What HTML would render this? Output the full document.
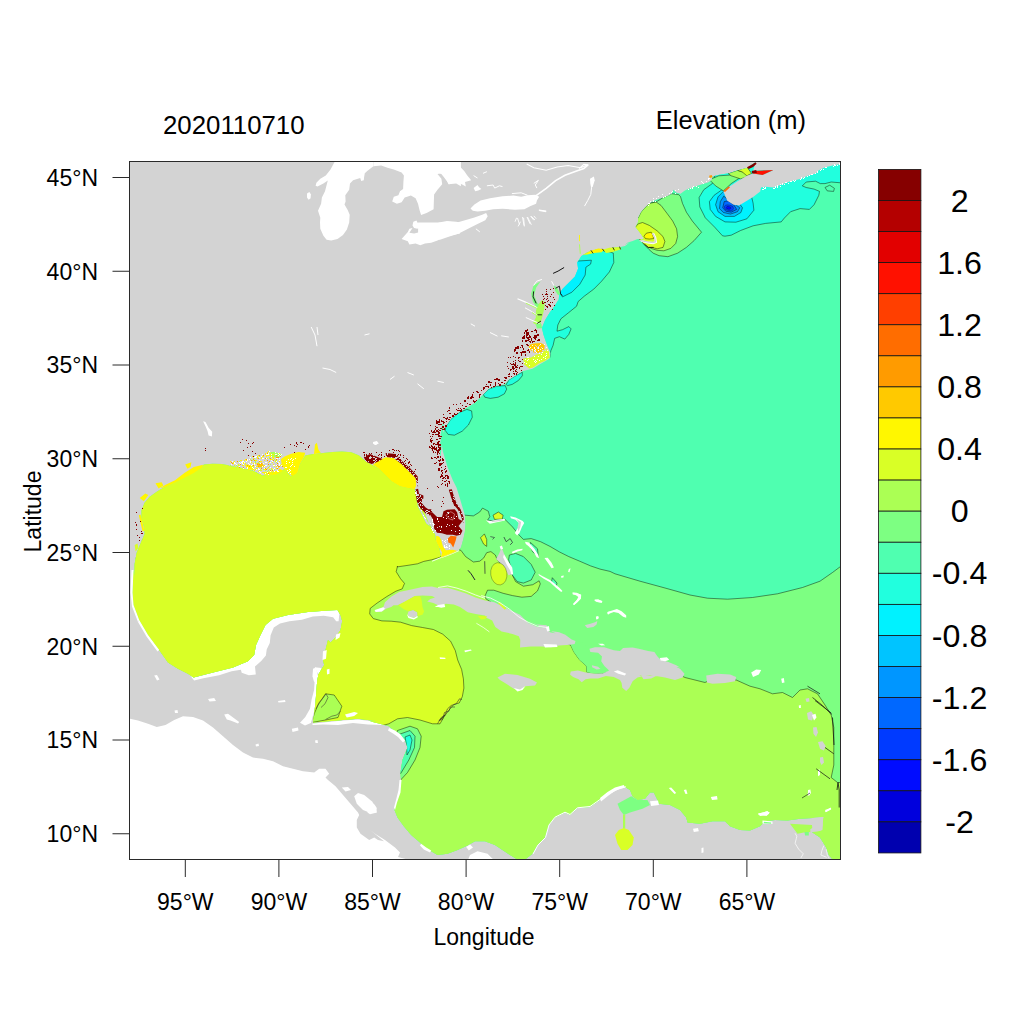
<!DOCTYPE html>
<html lang="en"><head><meta charset="utf-8"><title>Elevation (m) 2020110710</title>
<style>
html,body{margin:0;padding:0;background:#fff;}
body{width:1024px;height:1024px;overflow:hidden;position:relative;font-family:"Liberation Sans",Arial,Helvetica,sans-serif;color:#000;}
svg{position:absolute;left:0;top:0;display:block;}
text{font-family:"Liberation Sans",Arial,Helvetica,sans-serif;fill:#000;}
.ax{font-size:23px;}
.ti{font-size:25.8px;}
.cb{font-size:32.2px;}
</style></head><body>
<svg width="1024" height="1024" viewBox="0 0 1024 1024">
<rect x="0" y="0" width="1024" height="1024" fill="#ffffff"/>
<defs><clipPath id="fc"><rect x="129.5" y="161.5" width="711" height="698"/></clipPath></defs>
<g clip-path="url(#fc)">
<rect x="129.5" y="161.5" width="711" height="698" fill="#d3d3d3"/>
<polygon points="120,870 120,718 130.0,718.8 138.0,720.5 148.0,723.8 156.8,727.0 165.5,725.0 174.2,720.0 183.0,716.2 193.0,717.0 203.0,720.5 213.0,727.5 223.0,736.2 233.0,745.0 243.0,752.5 253.0,757.5 263.0,758.8 273.0,761.2 283.0,766.2 293.0,768.8 303.0,771.2 314.2,772.5 319.2,768.8 325.5,768.8 329.2,773.8 325.5,777.5 328.0,780.0 335.5,786.2 343.0,795.0 350.5,803.8 358.0,812.5 359.2,815.0 356.8,820.0 356.8,827.5 360.5,833.8 369.2,840.0 374.2,837.5 378.0,840.0 384.0,841.2 370.0,830.0 375.0,833.8 385.0,840.0 395.0,847.5 400.0,852.5 398.0,857.0 407.5,859.5 420.0,861.2 467.5,861.2 470.0,855.0 477.5,851.2 487.5,853.8 493.8,860.0 495.0,865.0 495,870" fill="#fff"/>
<polygon points="367.5,801.2 375.0,805.0 377.0,812.5 370.0,814.2 367.5,812.5" fill="#fff"/>
<polygon points="354.2,796.2 358.0,793.0 364.2,795.0 371.8,801.2 376.8,808.0 376.0,812.5 370.5,813.0 363.0,810.0 356.8,803.8" fill="#fff"/>
<polygon points="189.4,674.4 194.1,677.5 203.4,675.2 214.4,672.0 226.9,668.1 239.4,663.4 247.2,660.3 251.9,656.4 254.2,652.5 255.0,644.7 257.3,636.9 260.5,629.1 264.4,622.0 271.4,618.1 283.1,615.0 295.6,612.7 309.7,611.1 323.8,609.5 337.0,609.1 339.4,613.4 338.6,621.2 336.2,621.2 333.1,617.3 323.8,615.8 312.8,616.6 301.9,619.7 289.4,621.2 280.0,623.6 273.8,627.5 270.6,635.3 269.8,643.1 266.7,649.4 265.9,655.6 261.2,661.1 255.0,666.6 255.8,674.4 248.8,675.2 241.7,672.8 240.9,669.7 231.6,671.2 219.1,675.2 203.4,678.3 194.1,680.6" fill="#fff"/>
<polygon points="314.7,667.3 318.3,674.4 314.7,679.8 314.1,690.0 311.6,699.4 310.0,708.8 305.3,716.9 300.0,722.8 305.0,725.6 310.9,723.1 314.7,709.5 315.6,699.4 317.2,690.0 320.3,677.5 321.4,668.1" fill="#fff"/>
<polygon points="311.8,723.8 328.0,722.0 343.0,720.5 358.0,719.5 378.0,722.0 384.0,723.0 384.0,725.0 368.0,724.5 353.0,723.0 338.0,725.0 323.0,724.5 313.0,725.0" fill="#fff"/>
<polygon points="335.2,160.8 330.5,169.4 325.8,175.6 320.3,178.8 316.4,182.7 315.6,185.8 317.5,186.6 323.4,183.4 327.8,180.6 325.0,191.2 321.9,197.5 321.1,203.8 318.0,210.8 320.3,217.8 320.0,222.5 320.3,228.8 323.4,235.8 326.6,239.7 331.2,240.5 337.5,238.9 343.0,235.0 346.9,229.5 349.2,222.5 349.7,214.7 347.7,210.0 344.5,204.5 345.6,201.4 345.3,195.2 349.2,189.7 350.0,183.4 353.1,180.3 360.2,178.0 361.2,181.1 363.8,180.3 364.1,177.2 364.8,173.3 367.2,170.9 373.4,166.2 373.4,160.8" fill="#fff"/>
<polygon points="373.4,160.8 373.4,166.2 381.2,165.5 387.5,167.8 393.8,169.4 401.6,172.5 403.9,175.6 403.4,181.9 403.1,188.9 400.0,191.2 398.4,195.2 393.8,196.7 392.2,201.4 396.9,203.8 401.6,202.2 404.7,197.5 410.9,195.6 415.6,198.3 418.0,203.8 419.5,210.0 421.1,215.0 426.6,213.1 433.6,209.2 434.1,194.4 437.5,189.7 442.2,184.2 441.4,178.8 437.5,174.1 440.6,173.3 446.1,178.8 448.4,184.2 456.2,183.4 460.9,186.2 460.9,160.8" fill="#fff"/>
<polygon points="438.4,160.8 455.6,163.1 460.3,167.0 464.2,170.9 467.3,175.6 471.2,180.3 465.0,181.9 465.8,186.6 460.3,183.4 455.6,181.9 449.4,184.2 446.2,180.3 441.6,174.1 438.4,173.3" fill="#fff"/>
<polygon points="413.3,221.7 416.4,220.6 418.0,223.3 421.1,224.1 421.1,227.2 417.2,228.8 414.1,228.0 412.5,225.6" fill="#fff"/>
<polygon points="401.6,238.9 407.8,231.9 409.4,228.8 412.5,228.0 409.4,232.7 414.1,233.4 420.3,231.9 426.6,228.8 432.8,225.6 439.1,222.5 446.9,220.9 456.2,221.7 460.0,222.5 460.0,233.4 453.1,235.0 443.8,237.3 437.5,240.5 431.2,242.8 425.0,243.6 420.3,245.2 415.6,243.6 409.4,244.4 407.8,241.2" fill="#fff"/>
<polygon points="440.0,222.5 449.4,221.7 457.2,222.5 465.0,220.2 474.4,217.5 482.2,214.7 486.1,213.1 487.7,216.2 485.3,220.2 477.5,224.1 468.1,228.8 458.8,233.4 449.4,236.6 440.0,239.7 418.1,235.0 418.1,222.5" fill="#fff"/>
<polygon points="470.5,208.4 474.4,204.5 480.6,200.6 490.0,198.3 502.5,196.2 513.4,195.6 521.2,196.7 527.5,195.2 535.3,194.7 539.2,196.7 536.9,200.6 536.1,203.8 530.6,206.1 524.4,209.2 515.0,209.7 502.5,208.8 493.1,209.2 485.3,210.8 477.5,211.6 472.8,210.8" fill="#fff"/>
<polygon points="307.0,193.6 309.4,192.0 310.9,194.4 310.6,198.3 308.6,199.8 307.0,197.5" fill="#fff"/>
<polygon points="473.6,188.1 477.5,185.0 479.1,187.3 481.4,188.9 478.3,190.5 475.2,191.2" fill="#fff"/>
<polygon points="590.0,178.8 593.9,176.4 594.7,180.3 592.8,186.6 591.2,188.1 590.3,183.4" fill="#fff"/>
<polyline points="536.1,195.6 546.2,188.4 555.6,180.6 565.0,175.2 575.9,171.2 583.8,168.6 588.1,165.0" fill="none" stroke="#fff" stroke-width="1.6"/>
<polyline points="526.7,163.9 533.8,167.8 546.2,170.2 557.2,167.0 568.1,165.5 580.6,167.8 588.4,164.7 583.8,164.4 579.1,168.6" fill="none" stroke="#fff" stroke-width="1.1"/>
<polyline points="591.6,187.3 590.8,194.4 587.7,200.6 584.5,206.1" fill="none" stroke="#fff" stroke-width="1"/>
<polyline points="486.9,185.8 493.1,185.0 494.7,188.1 499.4,185.8 502.5,186.6" fill="none" stroke="#fff" stroke-width="1"/>
<polyline points="533.8,183.4 538.4,180.3 535.3,185.0 536.9,188.1" fill="none" stroke="#fff" stroke-width="1"/>
<polyline points="511.9,193.6 521.2,192.8 527.5,195.2" fill="none" stroke="#fff" stroke-width="1"/>
<polyline points="516.6,217.8 515.0,221.7" fill="none" stroke="#fff" stroke-width="0.9"/>
<polyline points="520.5,221.7 518.1,226.4" fill="none" stroke="#fff" stroke-width="0.9"/>
<polyline points="523.6,217.8 524.4,226.4" fill="none" stroke="#fff" stroke-width="0.9"/>
<polyline points="527.5,217.0 531.4,224.8" fill="none" stroke="#fff" stroke-width="0.9"/>
<polyline points="530.6,216.2 533.8,220.2" fill="none" stroke="#fff" stroke-width="0.9"/>
<polyline points="533.8,215.9 536.1,218.6" fill="none" stroke="#fff" stroke-width="0.9"/>
<polyline points="539.2,210.3 546.2,211.6" fill="none" stroke="#fff" stroke-width="1.3"/>
<polyline points="475.9,228.8 479.8,231.9" fill="none" stroke="#fff" stroke-width="1"/>
<polyline points="473.6,175.6 477.5,178.0" fill="none" stroke="#fff" stroke-width="1"/>
<polyline points="483.0,173.3 486.9,171.7" fill="none" stroke="#fff" stroke-width="1"/>
<polyline points="311.2,327.0 315.0,335.0 317.0,346.2" fill="none" stroke="#fff" stroke-width="1"/>
<polyline points="317.0,327.0 318.0,335.0" fill="none" stroke="#fff" stroke-width="1"/>
<polyline points="322.5,368.0 330.0,369.5 336.2,372.5" fill="none" stroke="#fff" stroke-width="1"/>
<polyline points="490.0,332.5 497.5,336.2" fill="none" stroke="#fff" stroke-width="1"/>
<polyline points="501.2,335.8 508.8,337.0" fill="none" stroke="#fff" stroke-width="1"/>
<polyline points="417.5,383.8 423.8,388.8" fill="none" stroke="#fff" stroke-width="1"/>
<polyline points="407.5,372.5 413.8,375.0" fill="none" stroke="#fff" stroke-width="1"/>
<polyline points="390.0,379.5 394.5,376.2" fill="none" stroke="#fff" stroke-width="1"/>
<polyline points="364.5,335.0 369.5,333.8" fill="none" stroke="#fff" stroke-width="1"/>
<polyline points="470.8,323.8 475.0,326.2" fill="none" stroke="#fff" stroke-width="1"/>
<polyline points="437.5,381.2 443.8,382.5" fill="none" stroke="#fff" stroke-width="1"/>
<polyline points="517.5,218.0 519.5,224.5" fill="none" stroke="#fff" stroke-width="0.9"/>
<polyline points="522.5,217.0 524.0,225.5" fill="none" stroke="#fff" stroke-width="0.9"/>
<polyline points="527.0,217.0 530.0,223.8" fill="none" stroke="#fff" stroke-width="0.9"/>
<polyline points="531.2,216.2 535.0,220.0" fill="none" stroke="#fff" stroke-width="0.9"/>
<polyline points="538.8,210.0 546.2,211.2" fill="none" stroke="#fff" stroke-width="1.2"/>
<clipPath id="sea"><polygon points="842,160 842,862 834,862 832.5,859.5 828.8,855.0 826.2,847.5 820.0,837.5 812.5,832.5 812.0,825.0 823.2,817.0 812.5,818.0 800.0,818.8 787.5,820.5 775.0,820.0 765.0,821.2 760.0,826.2 750.0,830.5 740.0,830.0 730.0,826.2 725.0,821.2 712.5,821.2 700.0,823.8 687.5,822.5 686.2,817.5 680.0,810.0 670.0,805.0 658.8,803.8 657.5,800.0 653.8,792.5 650.0,792.5 645.0,798.8 637.5,800.0 632.5,796.2 630.0,790.0 623.8,786.2 615.0,788.8 607.5,793.8 600.0,800.0 600.0,800.0 590.0,807.0 577.5,808.0 570.0,815.0 565.0,812.5 555.0,817.5 548.8,825.0 545.0,837.5 537.5,845.0 532.5,853.8 525.0,859.5 517.5,859.5 510.0,855.0 502.5,850.0 495.0,845.0 485.0,841.2 475.0,841.2 467.5,845.5 457.5,850.0 447.5,853.8 437.5,855.0 431.2,851.2 426.2,848.8 420.0,842.5 411.2,835.0 403.8,826.2 397.5,817.5 394.5,810.0 396.2,802.5 399.5,792.5 401.2,782.5 400.5,772.5 402.5,760.0 407.5,747.5 405.0,740.0 400.0,733.8 395.0,731.2 388.8,726.2 380.0,723.8 370.0,721.2 378.0,721.2 358.0,718.8 343.0,720.0 328.0,721.2 313.0,722.5 314.2,713.8 315.5,702.5 316.8,685.0 318.0,675.0 324.2,665.0 323.0,660.0 325.5,650.0 328.0,640.0 330.5,642.5 335.5,637.5 340.5,630.0 342.2,621.2 340.5,615.0 337.5,610.0 328.0,610.5 308.0,612.0 288.0,615.0 273.0,618.8 265.5,625.0 260.5,635.0 256.0,645.0 254.2,655.0 248.0,661.2 233.0,667.5 218.0,671.2 203.0,675.0 193.5,677.5 188.0,673.8 178.0,668.8 168.0,662.5 159.2,650.0 148.0,635.0 139.2,620.0 133.5,605.0 132.5,592.5 133.5,570.0 134.4,576.2 134.7,563.8 136.7,552.8 140.6,543.4 144.5,534.1 143.8,526.2 141.4,518.4 141.4,510.6 144.5,502.8 150.0,496.6 157.8,491.1 165.6,486.4 175.0,481.7 184.4,477.0 193.8,472.3 201.6,466.9 203.9,464.5 212.5,463.8 221.9,464.1 228.1,465.3 230.0,466.1 237.8,467.1 245.6,469.1 253.4,471.0 262.2,475.4 271.0,474.4 278.8,472.0 284.7,469.1 290.5,475.9 297.4,473.0 300.3,463.2 305.2,455.4 313.0,453.9 321.8,453.4 330.0,452.9 315.3,453.9 323.1,453.1 332.5,451.9 341.9,451.6 351.2,452.3 359.1,455.5 365.3,460.9 371.6,464.8 379.4,468.8 385.6,475.0 391.9,481.2 399.7,485.9 407.5,487.8 414.5,489.1 416.1,496.9 417.7,506.2 422.3,515.6 426.2,523.4 430.0,526.6 414.6,487.8 415.6,494.6 418.1,504.4 422.5,512.2 427.3,521.0 432.2,528.8 435.2,534.7 436.1,541.5 439.1,547.4 441.0,557.1 444.9,556.2 452.7,553.2 458.6,550.3 461.0,547.4 463.5,538.6 464.9,531.8 465.6,523.9 464.9,515.2 462.5,507.3 459.6,497.6 456.6,487.8 452.7,480.0 447.5,466.9 442.8,451.2 440.6,435.6 441.9,426.2 444.1,420.0 440.3,460.0 439.5,448.4 441.1,437.5 445.0,428.1 451.2,418.8 459.1,412.5 466.9,407.8 474.7,403.1 482.5,395.3 488.8,389.1 496.6,385.9 504.4,384.4 509.1,379.7 516.9,375.0 523.1,371.1 532.5,368.8 540.3,364.1 549.7,358.6 550.5,353.1 546.6,343.8 543.4,334.4 541.9,328.1 545.0,320.3 549.7,312.5 554.4,306.2 558.3,300.0 546.9,340.6 543.0,329.7 545.3,320.3 550.0,312.5 555.5,306.2 558.6,300.0 559.4,293.8 562.5,289.1 568.8,282.8 575.0,276.6 578.1,268.8 577.3,262.5 581.2,256.2 587.5,252.3 596.9,249.2 606.2,250.0 612.5,247.7 620.3,246.9 625.0,246.1 629.7,242.2 620.0,247.4 623.9,245.4 627.8,242.5 632.7,241.0 637.6,239.1 642.5,239.8 643.9,238.6 641.5,234.7 638.6,230.8 635.6,226.9 638.1,222.0 638.1,218.1 641.0,212.2 644.4,208.3 649.3,203.4 653.2,201.0 657.1,199.5 663.0,197.6 667.9,196.1 671.8,193.7 673.2,189.8 676.6,192.7 680.5,193.7 684.5,190.7 688.4,188.8 694.2,186.8 701.1,184.4 707.9,182.4 711.8,180.0 712.3,176.4 719.4,174.8 728.8,173.3 738.1,170.2 747.5,167.8 755.3,162.3 756.9,160.0 760,160"/></clipPath>
<g clip-path="url(#sea)">
<rect x="120" y="150" width="730" height="720" fill="#4FFFB0"/>
<g stroke="#0a1206" stroke-opacity="0.8" stroke-width="0.6" stroke-linejoin="round">
<polygon points="459.4,511.2 464.8,515.2 473.4,515.9 479.7,512.0 482.5,508.1 488.3,511.2 489.8,516.7 487.5,520.3 496.9,520.9 504.7,519.1 512.5,526.9 518.8,534.7 523.4,539.4 531.2,538.6 540.6,541.7 550.0,546.4 559.4,551.9 568.8,556.6 579.7,561.2 590.6,565.9 600.0,569.1 610.0,571.4 615.0,573.8 640.0,581.2 665.0,588.0 690.0,595.0 707.5,598.2 727.5,599.2 752.5,597.5 777.5,593.8 802.5,587.5 820.0,581.2 832.5,572.5 842.5,565.0 845,700 845,870 100,870 100,560 440,540" fill="#7DFF82"/>
<polygon points="453.1,548.8 460.9,550.3 465.6,556.6 473.4,562.0 479.7,561.2 483.6,558.1 486.7,552.7 490.9,551.6 495.3,555.0 496.9,558.9 503.1,567.5 512.5,575.3 515.6,581.6 523.4,586.2 532.8,584.7 539.1,580.8 540.3,583.9 537.5,590.9 531.2,596.4 521.9,597.2 512.5,595.6 503.1,593.3 493.8,590.2 487.5,590.2 485.2,595.6 485.9,598.8 535.6,631.6 559.1,639.4 570.8,645.3 573.9,651.9 579.4,659.7 586.4,665.9 586.9,672.2 601.2,673.8 629.4,667.5 660.6,669.1 680.0,673.8 670.0,670.0 685.0,677.5 695.0,680.0 705.0,682.5 710.0,680.0 735.0,680.0 736.2,680.0 750.0,686.2 760.0,688.8 772.5,693.8 782.5,692.5 792.5,697.5 800.0,690.0 807.5,688.8 817.5,693.8 825.0,705.0 831.2,715.0 833.8,727.5 833.8,747.5 833.8,765.0 831.2,777.5 837.5,782.5 843.8,782.5 845,790 845,870 100,870 100,540 330,540" fill="#ABFF54"/>
<polygon points="448.8,535.6 442.5,555.2 439.4,557.5 431.6,559.8 423.8,561.4 417.5,563.8 408.1,565.3 397.2,566.9 397.5,566.2 396.2,571.7 400.6,578.8 404.5,583.4 402.2,588.9 395.9,591.2 386.6,596.7 377.2,603.0 370.2,608.4 369.7,613.9 373.3,618.6 381.9,620.9 391.2,621.2 400.6,622.2 411.6,625.6 422.5,627.5 433.4,629.5 442.8,634.2 450.6,641.2 455.3,650.6 457.7,660.0 461.6,669.4 463.4,678.8 463.9,688.1 462.3,696.7 459.2,703.0 453.8,704.5 449.1,710.0 444.4,716.2 439.7,720.0 445.0,715.0 440.0,723.8 432.5,723.8 420.0,720.0 407.5,717.5 397.5,718.8 388.8,723.8 380.0,726.2 370.0,725.0 358.0,727.5 303.0,727.5 100,700 100,400 330,400 400,440 430,480 445,530" fill="#D9FF26"/>
<polygon points="397.5,730.5 410.0,726.2 417.5,728.8 421.2,736.2 420.0,747.5 415.0,760.0 407.5,772.5 399.5,781.2 395.0,765.0 395.0,740.0" fill="#7DFF82"/>
<polygon points="398.8,734.5 410.0,730.5 415.0,736.2 414.5,747.5 408.8,760.0 400.5,773.8 395.0,765.0 395.0,740.0" fill="#4FFFB0"/>
<polygon points="405.0,737.0 410.0,735.0 412.0,740.0 410.0,750.0 407.0,755.0 406.5,745.0" fill="#21FFDE"/>
<polygon points="325.5,693.8 334.2,695.0 341.8,706.2 338.0,717.5 325.5,720.0 311.8,722.5 314.2,713.8 318.0,705.0" fill="#ABFF54"/>
<polygon points="570.8,645.3 573.9,651.9 579.4,659.7 586.4,665.9 586.9,672.2 595.0,673.8 602.8,673.4 609.1,670.6 604.4,665.9 601.2,661.2 602.0,656.6 598.1,652.7 590.3,651.9 589.5,648.8 582.5,642.5 575.5,640.9" fill="#7DFF82" stroke="none"/>
<polygon points="509.4,555.0 515.6,553.4 523.4,556.6 531.2,564.4 535.2,572.2 531.2,580.0 523.4,583.1 517.2,581.6 512.5,575.3 510.9,567.5 508.6,559.7" fill="#4FFFB0"/>
<polygon points="530.5,542.5 537.5,548.8 538.3,556.6 532.8,551.9 529.7,545.6" fill="#4FFFB0"/>
<polygon points="552.3,577.7 557.0,583.1 556.2,586.2 551.6,581.6" fill="#4FFFB0"/>
<polygon points="493.0,515.2 498.4,512.0 503.1,515.2 502.3,519.1 494.5,519.4" fill="#D9FF26"/>
<polygon points="480.5,537.8 484.4,533.9 486.7,539.4 486.7,546.4 483.6,544.1" fill="#D9FF26"/>
<polygon points="445.8,426.6 451.2,418.8 459.1,412.5 466.9,409.4 471.6,410.9 472.3,417.2 468.4,425.0 462.2,431.2 454.4,435.2 448.1,434.4 445.3,430.5" fill="#21FFDE"/>
<polygon points="483.3,394.5 488.8,389.1 496.6,386.2 505.2,385.6 506.7,389.1 504.4,393.8 498.1,397.2 490.3,398.4 484.8,397.2" fill="#21FFDE"/>
<polygon points="506.2,384.4 509.1,379.7 516.9,375.0 522.3,372.2 522.3,375.8 518.4,380.5 512.2,384.4 507.5,385.6" fill="#21FFDE"/>
<polygon points="613.3,253.1 613.8,262.5 609.4,271.9 601.6,281.2 593.8,289.1 584.4,296.1 578.1,301.6 576.6,306.2 568.8,312.5 560.9,318.8 557.8,325.0 557.0,331.2 562.5,329.7 568.8,326.6 571.1,328.9 568.8,334.4 564.8,339.1 559.4,336.7 554.7,338.3 553.1,345.3 550.8,350.8 549.7,357.8 543.8,356.2 539.1,329.7 546.9,309.4 556.2,293.8 573.4,275.0 575.0,259.4 593.8,246.9" fill="#21FFDE"/>
<polygon points="575.0,261.2 591.4,260.2 590.6,264.1 585.9,267.2 585.2,275.0 579.7,284.4 571.9,292.2 562.5,296.9 560.2,293.8 557.8,290.6 568.8,278.1 575.0,270.3" fill="#00F2FF"/>
<polygon points="649.3,203.4 656.1,202.0 663.0,197.6 671.8,193.7 678.6,194.6 680.5,196.6 682.5,203.4 686.4,212.2 692.3,221.0 701.5,232.2 694.2,240.5 686.4,247.4 677.6,253.2 667.9,256.7 659.1,255.7 653.2,253.2 648.8,249.3 644.4,244.9 639.5,238.6 629.8,223.9 634.6,209.3" fill="#7DFF82"/>
<polygon points="638.1,218.1 641.0,212.2 644.4,208.3 649.3,203.4 656.1,202.0 661.0,205.4 666.9,213.2 672.7,221.0 676.6,228.8 677.6,236.6 675.7,243.5 670.8,248.4 663.9,250.8 657.1,250.3 651.2,248.4 646.4,245.4 639.5,238.6 629.8,223.9" fill="#ABFF54"/>
<polygon points="635.6,226.9 638.1,223.9 642.5,222.5 649.3,225.4 657.1,230.8 663.0,236.6 664.9,241.5 663.0,247.4 657.1,248.8 652.2,247.4 648.3,247.6 644.4,244.5 639.5,239.6 631.7,230.8" fill="#D9FF26"/>
<polygon points="643.9,236.2 646.4,233.2 651.2,232.2 652.7,234.7 653.7,238.6 649.3,239.1 645.4,238.6" fill="#FFF700"/>
<polygon points="715.6,173.4 712.3,183.6 703.8,189.7 699.1,197.5 699.8,206.9 705.3,217.8 714.7,227.2 722.5,235.8 725.0,236.2 731.2,235.2 740.6,230.5 753.1,225.8 765.6,223.4 781.2,221.9 784.4,218.0 790.6,211.7 800.0,208.6 809.4,209.4 814.1,204.7 818.8,195.3 819.5,191.4 814.1,189.1 806.2,187.5 802.3,185.9 806.2,182.0 815.6,181.2 820.3,183.6 825.0,183.6 831.2,182.0 840.6,182.8 840.6,159.4 746.9,159.4" fill="#21FFDE"/>
<polygon points="825.0,187.5 829.7,185.2 834.4,188.3 833.6,191.4 827.3,190.9" fill="#4FFFB0"/>
<polygon points="721.9,189.8 714.1,195.3 709.4,201.6 710.2,209.4 715.6,216.4 725.0,221.9 735.9,222.2 746.9,218.8 753.9,210.2 753.1,203.1 751.6,196.9 739.1,196.9" fill="#00F2FF"/>
<polygon points="723.4,191.4 718.0,196.9 715.6,204.7 718.0,211.7 725.0,216.4 734.4,216.4 740.9,212.5 742.5,207.8 739.1,203.1 731.2,196.9" fill="#00C4FF"/>
<polygon points="723.8,196.1 720.3,201.6 719.5,208.6 723.4,212.5 730.5,214.1 737.5,211.7 739.8,207.8 733.6,203.1 727.3,199.2" fill="#0096FF"/>
<polygon points="724.2,201.6 722.7,207.8 725.8,211.2 731.2,212.2 736.7,209.4 733.6,204.7 728.1,200.8" fill="#0068FF"/>
<polygon points="709.4,179.7 718.8,175.8 731.2,175.0 740.6,177.3 731.2,183.6 723.4,190.9 715.6,185.9" fill="#7DFF82"/>
<polygon points="728.1,173.4 737.5,170.3 746.9,173.4 750.0,175.8 740.6,178.9 731.2,175.8" fill="#ABFF54"/>
<polygon points="737.5,170.3 746.9,166.9 751.6,173.4 746.9,175.8 742.2,171.9" fill="#D9FF26"/>
</g></g>
<polygon points="374.1,610.8 383.4,606.9 385.0,602.2 391.2,596.7 399.1,592.0 410.0,589.7 422.5,586.9 431.9,586.6 438.1,588.1 447.5,587.8 456.9,590.5 466.2,593.6 475.6,597.5 485.0,600.6 494.4,602.2 503.8,606.9 513.1,611.6 520.0,614.7 528.1,623.0 537.5,626.9 546.9,627.7 550.0,632.3 559.4,633.9 565.6,636.2 570.3,640.0 527.8,620.6 537.2,624.5 546.6,625.3 548.9,630.8 559.1,632.3 565.3,634.7 571.6,639.4 575.5,640.9 574.7,644.1 570.0,644.8 559.1,645.6 551.2,647.2 541.9,646.4 530.9,646.4 520.0,647.5 520.3,640.0 518.8,636.2 512.5,633.9 501.6,631.6 495.3,626.9 492.2,620.6 485.9,617.5 485.0,615.5 475.6,613.9 467.8,612.3 460.0,606.9 453.8,604.5 445.9,603.8 439.7,606.1 433.4,603.0 427.2,601.4 430.3,599.1 435.0,597.5 431.9,595.9 422.5,595.6 414.7,595.9 405.3,601.4 397.5,605.3 393.6,605.3 391.2,606.9 386.6,608.4 381.9,611.6 375.6,611.6" fill="#d3d3d3"/>
<polygon points="408.4,611.6 413.1,610.0 417.0,612.3 417.5,615.5 413.9,617.8 409.2,616.6 407.7,613.9" fill="#d3d3d3"/>
<polygon points="589.5,648.8 595.0,647.2 604.4,647.2 613.8,650.3 620.0,651.1 623.1,648.0 632.5,647.5 638.8,648.8 648.1,651.1 654.4,651.9 657.5,656.6 660.6,659.7 668.4,662.0 676.2,665.2 680.0,667.5 660.0,663.8 672.5,665.0 680.0,668.8 684.5,673.8 682.5,677.5 675.0,680.0 665.0,677.5 657.5,676.2 650.0,675.0 642.5,676.2 637.5,677.5 632.5,681.2 630.0,686.2 626.2,690.0 623.8,686.2 622.5,680.0 620.0,677.5 615.0,677.0 657.5,675.3 651.2,678.4 643.4,679.2 641.1,675.3 635.6,677.7 632.5,681.6 629.4,687.8 626.2,690.9 622.3,687.8 621.6,683.1 620.0,680.0 613.8,676.9 605.9,676.1 598.1,678.4 590.3,678.4 585.6,679.2 581.7,682.3 578.6,679.2 573.1,676.9 570.0,674.5 570.8,671.4 577.8,670.6 585.6,672.5 595.0,673.8 602.8,673.4 609.1,670.6 604.4,665.9 601.2,661.2 602.0,656.6 598.1,652.7 590.3,651.9" fill="#d3d3d3"/>
<polygon points="591.9,665.2 598.1,666.7 600.5,669.1 596.6,669.4 592.2,667.2" fill="#d3d3d3"/>
<polygon points="497.5,677.5 505.0,673.8 517.5,675.0 530.0,678.8 537.0,682.5 535.0,685.5 525.0,686.2 520.0,690.0 513.8,688.8 506.2,683.8 500.0,680.0" fill="#d3d3d3"/>
<polygon points="706.2,675.5 717.5,673.8 730.0,674.5 736.2,677.0 735.0,681.2 725.0,683.0 712.5,683.8 707.0,682.5" fill="#d3d3d3"/>
<polygon points="584.8,625.3 590.3,623.8 595.0,622.2 597.3,620.9 596.6,624.5 593.4,626.9 587.2,628.1" fill="#d3d3d3"/>
<polygon points="501.6,547.2 503.9,553.4 507.8,561.2 511.7,567.5 512.5,573.8 508.6,575.3 504.7,569.1 500.0,562.8 496.1,558.9 499.2,553.4" fill="#d3d3d3"/>
<polygon points="812.5,818.0 823.2,817.0 822.5,830.0 812.5,831.2 812.0,825.0" fill="#d3d3d3"/>
<polygon points="723.4,191.4 728.1,187.5 737.5,181.2 746.9,175.8 753.1,173.4 762.5,175.0 773.4,170.3 762.5,170.0 753.1,171.1 754.7,165.6 756.2,159.4 843.8,159.4 843.8,163.3 832.8,165.6 825.0,167.2 818.8,170.3 815.6,173.4 807.8,175.8 800.0,178.9 790.6,181.2 784.4,183.6 773.4,187.5 765.6,186.7 760.9,187.5 760.2,191.4 753.1,196.9 746.9,200.8 739.1,205.5 733.6,204.7 727.3,200.8 725.0,195.3" fill="#d3d3d3"/>
<polygon points="617.5,803.8 631.2,796.2 637.5,800.0 647.5,800.0 650.0,805.0 642.5,808.8 630.0,812.5 623.8,815.0 620.0,810.0" fill="#7DFF82"/>
<polygon points="623.0,814.5 625.2,814.5 625.2,828.8 623.0,828.8" fill="#ABFF54"/>
<polygon points="615.0,835.0 618.8,830.0 623.8,828.0 628.8,830.0 633.8,837.5 632.5,845.0 627.5,850.0 621.2,850.0 617.5,843.8" fill="#D9FF26"/>
<polygon points="790.0,823.8 812.0,825.0 812.0,832.0 803.8,832.5 797.5,833.8" fill="#ABFF54"/>
<polygon points="398.3,605.3 406.9,600.6 414.7,596.2 420.2,596.2 421.7,600.6 422.5,606.9 424.1,611.6 422.5,614.7 417.8,615.9 417.5,612.3 413.1,609.7 408.4,611.2 403.8,609.2" fill="#D9FF26"/>
<ellipse cx="498.8" cy="573.8" rx="8.1" ry="11.2" transform="rotate(-8 498.8 573.8)" fill="#D9FF26" stroke="#0c1a08" stroke-opacity="0.7" stroke-width="0.4"/>
<polygon points="523.2,358.6 531.0,357.6 535.9,354.7 541.8,353.2 546.2,348.8 548.6,350.8 549.8,357.6 544.7,361.0 538.8,363.5 533.0,367.4 529.1,368.4 524.2,364.5" fill="#D9FF26"/>
<polygon points="528.6,344.9 533.9,343.5 540.8,343.0 544.7,344.9 544.2,350.8 538.8,353.2 533.0,352.2 529.1,348.8" fill="#FFC900"/>
<polygon points="533.6,285.2 540.6,281.2 536.2,287.5 534.1,295.3 537.2,303.1 542.5,306.2 541.9,314.1 539.8,323.4 542.5,325.3 535.6,325.3 537.5,315.6 536.7,307.8 532.8,301.6 531.2,293.8" fill="#7DFF82"/>
<polygon points="535.9,310.7 538.8,303.9 541.8,300.0 544.7,302.0 544.2,308.8 542.7,315.6 540.8,322.5 535.9,324.4 533.0,322.9 535.9,317.6" fill="#ABFF54"/>
<polygon points="535.9,324.4 540.8,322.7 542.2,328.3 536.9,328.5" fill="#7DFF82"/>
<polygon points="553.9,285.2 557.0,287.5 560.2,293.8 558.1,295.3 555.0,290.6" fill="#7DFF82"/>
<polygon points="582.8,254.7 590.6,250.8 598.4,248.4 604.7,249.2 601.6,252.3 593.8,253.1 587.5,254.4" fill="#FFF700"/>
<polygon points="602.3,249.7 609.4,247.7 620.3,246.9 621.1,249.2 612.5,251.9 606.2,253.1" fill="#D9FF26"/>
<polygon points="373.1,464.8 379.4,460.2 385.6,457.5 393.4,458.1 401.2,464.1 409.1,471.9 415.3,478.1 416.1,485.2 414.5,489.1 407.5,487.8 399.7,485.9 391.9,481.2 385.6,475.0 379.4,468.8" fill="#FFF700"/>
<polygon points="436.1,535.7 439.1,536.6 441.0,539.6 443.0,546.4 445.9,550.3 452.7,549.8 456.6,550.8 448.8,554.2 441.0,557.1 442.0,552.3 439.1,547.4 436.1,541.5" fill="#FFF700"/>
<polygon points="447.9,538.6 450.8,535.7 456.6,536.6 455.7,540.5 453.2,547.4 450.8,543.5 448.3,542.5" fill="#FF6D00"/>
<ellipse cx="728.9" cy="207.8" rx="4.7" ry="2.8" transform="rotate(10 728.9 207.8)" fill="#003AFF" stroke="#0c1a08" stroke-opacity="0.7" stroke-width="0.4"/>
<ellipse cx="728.6" cy="207.8" rx="2.3" ry="1.4" transform="rotate(10 728.6 207.8)" fill="#000CFF" stroke="#0c1a08" stroke-opacity="0.7" stroke-width="0.4"/>
<polygon points="746.9,167.2 751.6,164.8 755.5,162.2 756.6,163.8 753.1,166.9 748.8,169.1" fill="#860000"/>
<polygon points="753.1,171.1 773.4,170.0 762.5,175.0 753.1,173.4" fill="#FF1100"/>
<polygon points="751.6,171.1 756.2,170.0 757.0,172.7 752.3,173.4" fill="#860000"/>
<polygon points="723.4,190.9 728.9,186.2 730.0,187.2 725.0,191.9" fill="#FF6D00"/>
<polygon points="709.1,175.8 711.7,175.0 712.5,177.3 709.7,178.1" fill="#FF9B00"/>
<polygon points="203.1,464.7 193.8,466.9 184.4,473.1 175.0,480.2 165.6,484.8 160.2,488.0 164.1,487.5 175.0,482.5 184.4,477.7 193.8,473.0 201.9,467.5" fill="#FFF700"/>
<polygon points="185.2,464.5 191.4,462.2 190.6,466.9 187.5,468.8" fill="#FFF700"/>
<polygon points="155.5,483.3 161.7,482.2 163.3,485.6 158.6,488.4" fill="#FFF700"/>
<polygon points="139.8,498.1 145.3,493.4 148.4,495.0 143.8,501.2" fill="#FFF700"/>
<polygon points="138.8,515.3 140.6,514.5 144.5,530.9 142.5,531.2" fill="#FFF700"/>
<polygon points="134.7,545.0 137.5,543.4 138.3,548.1 135.6,551.6" fill="#D9FF26"/>
<polygon points="280.8,459.3 284.7,456.4 290.5,453.9 298.4,452.0 305.2,452.7 304.2,456.4 300.3,463.2 297.4,473.0 292.5,475.9 288.6,473.0 284.7,469.1 281.8,464.2" fill="#FFF700"/>
<polygon points="269.1,452.7 273.9,451.7 282.7,454.6 278.8,457.8 273.0,457.3 270.0,455.6" fill="#ABFF54"/>
<polygon points="315.0,444.6 316.9,442.7 318.4,449.5 320.8,452.9 314.0,453.9" fill="#FFF700"/>
<polygon points="244.6,464.2 253.4,465.2 254.4,470.0 247.6,469.6" fill="#FFF700"/>
<polygon points="256.4,463.2 262.2,462.7 264.2,467.1 258.3,467.6" fill="#FFC900"/>
<polygon points="263.2,472.0 276.9,471.0 280.8,469.1 282.7,471.0 275.9,474.4 269.1,475.1 264.2,474.4" fill="#FFF700"/>
<polygon points="373.1,464.8 379.4,460.2 385.6,457.5 393.4,458.1 401.2,464.1 409.1,471.9 415.3,478.1 416.1,485.2 414.5,489.1 407.5,487.8 399.7,485.9 391.9,481.2 385.6,475.0 379.4,468.8" fill="#FFF700"/>
<polygon points="432.7,519.1 429.3,513.2 432.2,512.2 437.1,517.1 442.0,517.1 443.5,511.2 446.9,509.8 454.7,509.3 457.1,512.2 458.6,519.1 462.5,521.0 458.6,525.9 462.5,530.8 460.5,534.7 456.6,535.7 452.7,534.7 446.9,534.7 442.0,533.2 437.1,532.7 434.2,528.8 433.7,523.9" fill="#860000"/>
<polygon points="416.1,489.3 418.1,488.8 419.0,493.7 423.4,495.6 423.4,498.6 421.0,499.5 422.0,503.4 425.4,507.3 428.3,509.3 431.2,509.3 432.2,512.2 429.3,513.2 426.4,511.2 421.5,508.3 419.0,504.4 417.6,499.5 415.6,494.6" fill="#860000"/>
<polygon points="448.8,489.8 451.8,489.3 453.7,495.6 456.6,503.4 460.5,509.3 463.5,517.1 464.0,523.0 462.5,521.0 460.5,514.2 457.6,509.3 453.7,504.4 450.8,496.6" fill="#860000"/>
<polygon points="363.8,457.0 370.0,453.9 379.4,457.8 382.5,459.1 377.8,461.7 371.6,464.1 366.1,461.7" fill="#860000"/>
<polygon points="385.6,453.1 395.0,453.9 402.8,461.7 410.6,468.8 417.7,476.6 418.1,487.5 415.6,478.1 409.1,471.6 401.2,463.8 393.4,457.8 386.4,456.9" fill="#860000"/>
<polygon points="415.3,489.1 418.4,493.8 422.3,496.9 421.6,503.1 426.2,509.4 430.0,511.7 430.0,515.6 426.2,514.1 420.0,507.8 416.9,501.6" fill="#860000"/>
<polygon points="807.0,713.0 811.2,711.2 813.8,715.0 812.0,720.5 808.0,719.5" fill="#d3d3d3"/>
<polygon points="813.0,727.5 816.5,727.0 818.0,732.5 816.0,737.0 813.5,733.8" fill="#d3d3d3"/>
<polygon points="818.0,742.0 822.5,741.2 825.8,746.2 823.8,750.5 820.0,748.8" fill="#d3d3d3"/>
<polygon points="820.0,757.5 823.0,757.0 824.0,762.5 821.5,765.0 820.0,762.0" fill="#d3d3d3"/>
<polygon points="805.5,698.8 809.0,698.0 809.5,701.5 806.5,702.0" fill="#d3d3d3"/>
<polygon points="798.8,705.5 800.8,705.0 800.8,708.0 799.0,708.0" fill="#fff"/>
<polygon points="812.0,715.0 815.5,713.8 816.5,717.5 814.0,720.5" fill="#fff"/>
<polygon points="818.0,770.0 820.0,769.5 820.0,775.0 818.0,776.2" fill="#fff"/>
<polygon points="808.0,790.0 810.5,789.5 810.5,793.8 808.0,794.5" fill="#fff"/>
<polygon points="751.2,672.5 756.2,669.5 761.2,670.0 758.8,674.5 753.0,677.0" fill="#fff"/>
<polygon points="781.2,678.8 783.8,678.0 784.5,682.5 782.0,683.0" fill="#fff"/>
<polygon points="710.8,797.0 717.0,796.0 717.5,799.5 712.0,800.0" fill="#fff"/>
<polygon points="668.8,788.0 671.2,787.5 676.2,793.0 674.5,794.0" fill="#fff"/>
<polygon points="683.8,790.0 686.2,789.5 687.5,793.8 685.5,794.0" fill="#fff"/>
<polygon points="758.0,813.8 767.0,811.2 770.0,812.5 765.0,815.5 760.0,816.0" fill="#fff"/>
<polygon points="825.0,810.0 830.5,808.0 831.2,809.5 826.2,812.0" fill="#fff"/>
<polygon points="693.0,828.8 698.0,828.0 698.8,831.2 693.8,832.0" fill="#fff"/>
<polygon points="701.5,848.0 703.5,847.5 703.5,852.5 701.5,853.0" fill="#fff"/>
<polygon points="762.5,820.5 772.5,821.5 772.5,824.0 762.5,823.5" fill="#fff"/>
<polygon points="763.8,821.8 771.2,822.5 771.2,823.8 763.8,823.2" fill="#7DFF82"/>
<polygon points="804.5,832.0 808.8,832.0 808.8,835.5 805.0,835.5" fill="#7DFF82"/>
<polygon points="810.3,819.8 813.2,818.1 823.8,817.3 822.0,820.4 822.6,825.1 821.4,830.4 817.3,831.6 810.3,832.2 810.3,829.2 813.2,827.5 813.8,821.6" fill="#d3d3d3"/>
<polygon points="825.0,811.1 830.8,807.5 831.2,808.7 825.6,812.2" fill="#fff"/>
<polygon points="807.4,794.1 809.1,791.1 810.9,791.7 809.7,795.2 808.0,795.8" fill="#fff"/>
<polygon points="758.2,813.4 762.3,812.8 767.5,811.1 769.3,813.4 766.4,816.1 763.4,815.2 758.8,814.9" fill="#fff"/>
<polygon points="600.0,798.0 607.5,792.0 615.0,787.5 623.8,785.0 625.0,787.5 615.5,790.5 608.5,795.5 601.0,801.5" fill="#fff"/>
<polygon points="650.0,801.2 658.0,800.5 659.0,805.0 651.2,806.0" fill="#fff"/>
<polygon points="421.2,843.8 426.2,847.5 431.2,850.5 430.0,852.5 423.8,849.5 420.0,845.5" fill="#fff"/>
<polygon points="466.2,847.0 470.0,844.5 473.0,847.5 468.8,850.5" fill="#fff"/>
<polygon points="389.0,728.0 395.0,730.5 400.5,734.5 405.0,740.5 403.0,742.5 398.0,737.0 393.0,733.5 388.0,730.5" fill="#fff"/>
<polygon points="399.5,780.0 401.5,780.0 400.5,792.5 397.0,802.5 395.0,810.0 394.0,807.5 396.0,800.0 398.5,790.0" fill="#fff"/>
<polygon points="341.8,787.5 348.0,787.0 351.0,790.0 345.5,791.5" fill="#fff"/>
<polygon points="291.8,728.8 298.0,727.5 298.5,730.5 292.5,732.0" fill="#fff"/>
<polygon points="224.2,714.5 228.0,713.8 239.2,722.0 238.0,723.5 230.5,720.5 226.8,719.5" fill="#fff"/>
<polygon points="208.0,699.0 214.2,698.0 216.0,701.0 209.5,701.5" fill="#fff"/>
<polygon points="154.2,675.5 157.0,675.0 159.5,679.5 157.0,680.5" fill="#fff"/>
<polygon points="278.0,701.0 285.0,700.0 285.5,702.0 278.5,702.5" fill="#fff"/>
<polygon points="255.5,744.5 258.5,743.5 259.0,746.0 256.0,746.5" fill="#fff"/>
<polygon points="315.0,740.5 317.5,740.0 318.0,743.0 315.5,743.0" fill="#fff"/>
<polygon points="174.5,710.5 177.5,710.0 178.0,713.0 175.0,713.0" fill="#fff"/>
<polygon points="345.0,714.5 354.2,712.0 358.0,713.0 354.2,716.0 346.8,717.5" fill="#fff"/>
<polygon points="131.5,570.0 133.5,570.0 132.5,592.5 133.5,605.0 139.2,620.0 138.0,622.0 132.0,606.5 130.5,592.5" fill="#fff"/>
<polygon points="139.2,620.0 148.0,635.0 159.2,650.0 157.5,651.5 146.5,636.5 138.0,622.0" fill="#fff"/>
<polygon points="336.0,634.5 340.5,633.0 339.5,637.5 335.5,640.0" fill="#fff"/>
<polygon points="323.0,651.2 326.8,650.0 326.0,658.8 322.5,660.0" fill="#fff"/>
<polygon points="313.0,668.8 316.0,667.5 318.0,676.2 314.2,682.5 312.5,676.2" fill="#fff"/>
<polygon points="326.8,669.5 329.5,668.8 329.5,673.8 327.0,674.5" fill="#fff"/>
<polygon points="203.1,421.2 205.5,421.9 208.6,427.8 212.2,431.7 211.9,436.4 208.6,435.6 207.5,430.9 205.5,426.2" fill="#fff"/>
<polygon points="373.0,441.9 376.9,441.1 378.8,443.4 375.3,445.0 373.4,443.8" fill="#fff"/>
<polygon points="373.1,441.9 377.8,442.5 376.2,445.0 373.4,444.1" fill="#fff"/>
<polygon points="485.9,520.3 490.6,520.9 496.9,519.8 504.7,518.8 505.0,520.6 496.9,522.2 489.8,523.8" fill="#fff"/>
<polygon points="491.4,520.9 496.9,520.2 503.1,519.4 503.4,520.3 496.9,521.4 492.2,521.9" fill="#d3d3d3"/>
<polygon points="510.2,516.2 515.6,517.5 522.7,520.9 524.2,523.0 521.9,526.9 519.5,533.1 517.2,535.5 514.8,533.1 518.4,526.9 518.8,523.0 515.6,519.8 510.9,518.3" fill="#fff"/>
<polygon points="516.4,519.1 521.1,521.9 520.3,526.9 518.4,531.6 517.5,526.9 518.8,523.0" fill="#d3d3d3"/>
<polygon points="525.0,541.7 528.9,542.5 534.4,548.8 538.3,555.0 539.1,558.1 536.7,557.3 533.6,551.9 528.9,546.4 525.8,544.1" fill="#fff"/>
<polygon points="544.5,558.1 547.7,557.8 551.6,562.8 553.9,567.5 551.6,568.3 548.4,563.6" fill="#fff"/>
<polygon points="538.3,573.8 542.2,576.1 550.0,580.0 553.9,583.1 559.4,587.8 562.5,590.9 561.2,591.9 556.2,588.1 550.0,582.3 543.8,578.8 539.1,575.6" fill="#fff"/>
<polygon points="572.7,592.5 576.6,592.8 580.9,594.8 580.5,598.8 577.3,601.9 574.2,605.0 573.1,604.4 576.6,600.3 578.4,596.9 575.8,594.8" fill="#fff"/>
<polygon points="594.5,600.0 598.4,599.5 602.3,601.1 601.6,602.7 596.9,601.9" fill="#fff"/>
<polygon points="568.8,569.1 570.6,568.3 569.5,572.2 568.1,571.9" fill="#fff"/>
<polygon points="561.2,576.1 563.8,575.6 563.4,577.5 561.2,577.8" fill="#fff"/>
<polygon points="511.7,551.9 517.2,549.5 522.7,548.8 522.2,550.3 517.5,551.6 512.8,553.4" fill="#fff"/>
<polygon points="596.1,616.7 598.4,616.2 598.1,619.1 596.2,619.4" fill="#fff"/>
<polygon points="607.0,612.8 609.4,611.2 610.0,612.8 608.1,614.7" fill="#fff"/>
<polygon points="503.9,554.2 508.1,561.2 512.2,567.5 513.1,573.8 511.7,575.6 510.2,570.6 506.6,564.4 503.1,557.3" fill="#fff"/>
<polygon points="499.7,546.4 501.9,545.6 503.1,548.8 500.8,549.5" fill="#fff"/>
<polygon points="572.3,592.5 577.0,593.3 581.2,594.8 580.9,598.8 577.0,602.7 573.9,605.0 573.1,603.8 576.6,600.3 579.1,597.2 576.2,595.3 572.8,594.4" fill="#fff"/>
<polygon points="594.7,599.5 598.1,599.5 602.3,601.6 601.9,602.8 597.8,601.9 594.7,600.9" fill="#fff"/>
<polygon points="607.5,612.0 612.2,610.5 616.9,608.9 621.6,611.2 626.2,615.2 626.2,617.8 623.1,616.7 618.4,613.1 613.8,612.0 608.3,614.1" fill="#fff"/>
<polygon points="595.8,616.7 598.1,616.2 598.9,618.3 596.6,619.1" fill="#fff"/>
<polygon points="598.1,643.8 602.8,643.8 605.2,645.3 601.2,645.6" fill="#fff"/>
<polygon points="659.8,658.1 666.9,657.3 669.2,659.7 665.3,661.2 660.6,660.5" fill="#fff"/>
<polygon points="613.8,671.4 617.7,670.3 626.2,673.8 624.7,675.6 618.4,673.8" fill="#fff"/>
<polygon points="543.4,644.1 556.7,644.4 557.5,646.9 545.0,647.5" fill="#fff"/>
<polygon points="545.8,626.9 548.9,626.1 549.7,630.8 547.3,631.6" fill="#fff"/>
<polygon points="513.8,688.0 520.0,689.5 525.5,686.0 522.5,690.0 517.5,691.5" fill="#fff"/>
<polygon points="497.7,602.7 500.0,602.2 506.2,608.4 504.7,609.7" fill="#D9FF26"/>
<polygon points="477.8,615.9 487.2,616.2 485.2,619.1 481.2,619.4" fill="#D9FF26"/>
<polygon points="464.4,650.6 470.9,649.4 471.7,650.6 465.0,652.2" fill="#fff"/>
<polygon points="439.7,657.2 445.2,657.7 445.6,659.1 440.0,659.1" fill="#fff"/>
<polygon points="434.7,606.9 438.1,605.0 444.4,604.1 445.2,606.9 441.2,607.7 438.1,606.9" fill="#fff"/>
<polygon points="374.8,610.0 383.4,607.2 385.0,608.8 381.9,611.6 375.6,611.9" fill="#fff"/>
<polygon points="406.9,613.9 409.2,616.6 413.9,618.1 417.0,615.9 418.1,617.0 413.9,619.4 408.4,618.1" fill="#fff"/>
<polyline points="795.1,833.3 796.8,836.3 796.3,838.6 795.1,843.3 798.6,849.1 803.3,853.8 800.9,857.9" fill="none" stroke="#fff" stroke-width="0.7"/>
<polyline points="823.8,845.6 822.0,850.3 820.9,855.0 826.7,857.3" fill="none" stroke="#fff" stroke-width="0.7"/>
<polyline points="826.1,849.1 827.3,855.0 829.1,858.5" fill="none" stroke="#fff" stroke-width="0.6"/>
<polyline points="533.0,854.0 538.0,845.0 545.5,837.5 549.0,825.0 555.0,817.2 565.0,812.2 570.0,814.5 577.5,807.8 590.0,806.5 600.0,799.5 610.0,793.2 620.0,788.2 626.0,786.8" fill="none" stroke="#fff" stroke-width="1"/>
<polyline points="438.1,587.5 447.5,585.9 456.9,588.1 466.2,591.2 475.6,595.0 485.0,598.4" fill="none" stroke="#fff" stroke-width="0.8"/>
<polyline points="481.2,595.6 490.6,598.1 500.0,602.8 509.4,609.1 518.8,616.9 528.1,622.2 537.5,626.2 547.2,627.5" fill="none" stroke="#fff" stroke-width="0.8"/>
<polyline points="476.4,623.3 483.4,627.5 489.4,631.9" fill="none" stroke="#fff" stroke-width="0.7"/>
<polyline points="432.2,561.2 439.1,558.3 444.9,556.4 452.7,553.4 459.1,550.5" fill="none" stroke="#fff" stroke-width="0.9"/>
<polyline points="441.0,557.3 448.8,554.4 456.6,551.1" fill="none" stroke="#FFF700" stroke-width="0.7"/>
<polyline points="537.2,307.8 531.2,304.7 525.0,301.9 517.5,298.8" fill="none" stroke="#fff" stroke-width="1.2"/>
<polyline points="537.5,315.6 531.2,311.2 525.0,307.8" fill="none" stroke="#fff" stroke-width="1"/>
<polyline points="539.4,323.4 532.0,320.3 525.8,317.5" fill="none" stroke="#fff" stroke-width="1"/>
<polyline points="537.2,308.4 531.2,305.6 525.8,303.1" fill="none" stroke="#ABFF54" stroke-width="0.9"/>
<polyline points="537.8,316.2 532.0,312.5" fill="none" stroke="#ABFF54" stroke-width="0.9"/>
<polyline points="533.6,285.6 536.7,281.2 541.9,279.4" fill="none" stroke="#fff" stroke-width="1"/>
<polyline points="551.6,281.2 553.9,285.6" fill="none" stroke="#fff" stroke-width="1"/>
<polyline points="533.6,291.4 533.1,296.9 536.2,303.4" fill="none" stroke="#111" stroke-width="0.9"/>
<polyline points="537.5,314.8 541.9,314.8" fill="none" stroke="#111" stroke-width="0.9"/>
<polyline points="537.2,323.4 540.9,321.1" fill="none" stroke="#111" stroke-width="0.9"/>
<polyline points="553.1,273.4 558.1,271.1 564.1,267.5" fill="none" stroke="#111" stroke-width="1"/>
<polyline points="555.5,288.3 559.4,286.2 560.6,293.8 562.5,295.6" fill="none" stroke="#111" stroke-width="0.9"/>
<polyline points="579.5,235.0 579.5,241.2" fill="none" stroke="#FFF700" stroke-width="0.9"/>
<polyline points="579.5,244.4 580.3,253.8" fill="none" stroke="#ABFF54" stroke-width="0.9"/>
<polyline points="590.9,250.3 593.1,253.4" fill="none" stroke="#111" stroke-width="0.8"/>
<polyline points="602.3,248.8 604.4,251.6" fill="none" stroke="#111" stroke-width="0.8"/>
<polyline points="612.8,247.2 614.4,250.3" fill="none" stroke="#111" stroke-width="0.8"/>
<polyline points="619.5,246.6 620.6,249.4" fill="none" stroke="#111" stroke-width="0.8"/>
<polyline points="807.5,686.2 820.0,693.8" fill="none" stroke="#111" stroke-width="0.7"/>
<polyline points="812.5,697.5 822.5,705.5 832.0,714.5" fill="none" stroke="#111" stroke-width="0.7"/>
<polyline points="815.0,700.5 831.2,713.0" fill="none" stroke="#111" stroke-width="0.7"/>
<polyline points="832.5,717.5 834.0,745.0" fill="none" stroke="#111" stroke-width="0.8"/>
<polyline points="825.0,747.5 833.8,753.8" fill="none" stroke="#111" stroke-width="0.7"/>
<polyline points="816.2,768.8 830.0,778.8" fill="none" stroke="#111" stroke-width="0.7"/>
<polyline points="837.0,790.0 838.0,782.5 839.2,790.0 839.2,807.5" fill="none" stroke="#111" stroke-width="0.8"/>
<polyline points="802.0,798.0 810.0,793.0" fill="none" stroke="#111" stroke-width="0.6"/>
<polyline points="468.0,570.3 471.1,573.8 475.0,580.0" fill="none" stroke="#223" stroke-width="1"/>
<polyline points="484.7,561.2 485.0,573.8" fill="none" stroke="#223" stroke-width="0.7"/>
<polyline points="503.9,537.0 506.2,541.7 510.2,538.6 512.5,542.5 510.2,544.8" fill="none" stroke="#223" stroke-width="0.7"/>
<polyline points="490.3,536.6 494.5,537.5 492.5,539.4" fill="none" stroke="#223" stroke-width="0.6"/>
<polyline points="445.9,515.2 450.8,511.7 454.7,514.2 452.7,520.0 448.8,518.6 445.9,515.2" fill="none" stroke="#e9b0b0" stroke-width="0.6"/>
<polyline points="437.5,723.8 441.2,717.5 445.0,715.0 447.5,708.8 451.2,705.5 456.2,703.8 459.5,698.8 462.0,699.5" fill="none" stroke="#333" stroke-width="0.6"/>
<polyline points="438.8,720.5 442.5,719.5 444.5,712.5 448.8,711.2 450.5,707.0 455.0,707.0" fill="none" stroke="#333" stroke-width="0.6"/>
<polyline points="316.0,708.8 319.2,702.5 323.0,698.0 326.0,693.8 328.0,697.5 325.0,703.8 321.0,707.5" fill="none" stroke="#443" stroke-width="0.6"/>
<polyline points="325.5,719.5 331.8,716.2 336.8,715.0 340.5,711.2" fill="none" stroke="#443" stroke-width="0.6"/>
<polyline points="641.0,240.7 647.3,242.5 653.2,243.1 655.9,242.1 655.2,237.6 653.0,233.2" fill="none" stroke="#fff" stroke-width="2.2"/>
<polyline points="639.5,240.4 647.3,241.9 653.2,242.5 655.4,241.7 654.7,237.6 652.7,233.2" fill="none" stroke="#d3d3d3" stroke-width="1.3"/>
<polyline points="644.4,244.0 648.3,247.4 653.7,247.4" fill="none" stroke="#111" stroke-width="0.8"/>
<g shape-rendering="crispEdges">
<path d="M436 420h1v1h-1zM439 420h1v1h-1zM436 421h2v2h-2zM437 421h2v2h-2zM439 421h1v2h-1zM436 422h2v2h-2zM437 422h1v2h-1zM438 424h2v1h-2zM439 424h2v1h-2zM440 424h1v1h-1zM441 424h1v1h-1zM430 425h1v1h-1zM435 426h1v1h-1zM436 427h2v1h-2zM435 428h1v1h-1zM438 429h1v1h-1zM431 430h1v2h-1zM434 430h1v2h-1zM439 430h2v1h-2zM438 431h1v1h-1zM432 432h1v1h-1zM433 432h2v1h-2zM435 432h1v1h-1zM429 433h1v1h-1zM435 434h2v1h-2zM438 434h1v1h-1zM430 436h1v1h-1zM431 438h1v1h-1zM430 439h1v2h-1zM436 439h2v1h-2zM430 441h1v1h-1zM437 442h2v2h-2zM433 443h2v1h-2zM433 444h1v1h-1zM435 444h1v1h-1zM436 444h2v1h-2zM439 444h2v2h-2zM438 445h1v1h-1zM429 446h1v2h-1zM432 446h1v2h-1zM434 446h1v1h-1zM438 446h1v2h-1zM436 447h1v2h-1zM439 447h1v1h-1zM440 447h1v1h-1zM431 448h2v1h-2zM432 448h1v1h-1zM435 448h1v1h-1zM439 448h2v1h-2zM440 448h1v2h-1zM434 449h1v1h-1zM436 449h1v1h-1zM438 449h2v2h-2zM436 450h2v1h-2zM433 451h1v2h-1zM437 451h2v2h-2zM435 452h1v1h-1zM437 456h2v2h-2zM440 456h1v2h-1zM431 457h1v2h-1zM436 458h1v1h-1zM442 458h1v1h-1zM440 459h1v2h-1zM442 459h2v2h-2zM438 460h1v1h-1zM439 460h1v2h-1zM442 460h1v1h-1zM436 462h1v1h-1zM443 462h1v1h-1zM434 463h2v1h-2zM439 463h1v2h-1zM440 463h2v2h-2zM442 463h1v1h-1zM439 465h2v1h-2zM445 466h1v1h-1zM441 467h1v1h-1zM438 468h2v1h-2zM445 468h1v1h-1zM438 469h2v1h-2zM444 469h1v1h-1zM438 470h2v1h-2zM439 470h1v1h-1zM441 470h2v1h-2zM446 470h1v2h-1zM441 471h1v1h-1zM445 471h1v2h-1zM442 472h1v2h-1zM441 474h1v2h-1zM441 475h2v2h-2zM442 475h1v1h-1zM445 475h1v2h-1zM446 475h2v1h-2zM440 476h1v2h-1zM447 476h2v1h-2zM443 477h1v2h-1zM444 477h1v1h-1zM447 477h2v2h-2zM442 478h1v1h-1zM445 478h1v1h-1zM446 480h1v1h-1zM444 481h2v1h-2zM448 481h2v1h-2zM449 482h1v2h-1zM447 483h1v2h-1zM445 484h1v2h-1zM447 485h1v2h-1z" fill="#860000"/>
<path d="M515 362h1v1h-1zM510 363h1v1h-1zM513 363h1v2h-1zM515 363h1v1h-1zM511 364h2v1h-2zM514 364h1v2h-1zM515 364h1v2h-1zM507 366h1v1h-1zM512 366h2v1h-2zM513 366h1v2h-1zM515 366h2v2h-2zM520 366h2v1h-2zM521 366h2v1h-2zM512 367h2v1h-2zM516 367h1v1h-1zM517 367h1v1h-1zM519 367h1v1h-1zM512 368h1v1h-1zM513 368h1v2h-1zM510 369h1v2h-1zM511 369h1v1h-1zM510 370h1v1h-1zM515 370h1v1h-1zM515 371h1v1h-1zM516 371h1v1h-1zM517 372h1v1h-1zM509 373h1v2h-1zM513 373h2v1h-2zM516 373h1v2h-1zM508 374h2v1h-2zM514 374h1v1h-1zM508 376h2v1h-2zM509 376h1v1h-1zM511 376h1v1h-1zM504 377h1v1h-1zM505 377h2v2h-2zM496 378h2v2h-2zM505 378h2v1h-2zM494 379h2v1h-2zM498 379h2v2h-2zM504 380h1v1h-1zM505 380h1v1h-1zM488 381h2v2h-2zM490 382h1v1h-1zM491 382h1v1h-1zM495 382h1v2h-1zM501 382h2v1h-2zM498 383h1v1h-1zM504 383h1v1h-1zM486 384h1v1h-1zM490 384h1v2h-1zM495 384h1v2h-1zM499 384h2v2h-2zM500 384h1v1h-1zM485 386h1v1h-1zM486 386h2v1h-2zM488 386h1v2h-1zM493 386h1v1h-1zM494 386h1v1h-1zM483 387h2v2h-2zM491 387h1v1h-1zM483 389h1v1h-1zM481 390h1v1h-1zM476 391h1v1h-1zM477 391h1v1h-1zM473 392h1v1h-1zM477 392h2v1h-2zM478 392h1v1h-1zM472 394h1v2h-1zM479 394h2v1h-2zM479 395h1v2h-1zM468 396h1v2h-1zM471 396h2v2h-2zM479 396h1v2h-1zM467 397h2v2h-2zM470 397h2v2h-2zM473 397h1v1h-1zM470 398h1v1h-1zM464 400h2v2h-2zM473 400h1v2h-1zM476 400h1v1h-1zM464 401h1v1h-1zM473 401h1v1h-1zM474 401h2v1h-2zM474 402h1v1h-1zM460 403h1v1h-1zM467 403h1v1h-1zM453 404h1v1h-1zM456 404h1v1h-1zM469 404h2v1h-2zM462 405h1v1h-1zM465 406h2v1h-2zM449 407h1v2h-1zM458 408h1v1h-1zM460 408h1v1h-1zM463 408h2v1h-2zM456 409h1v1h-1zM461 409h1v1h-1zM448 410h1v1h-1zM449 410h1v1h-1zM457 410h2v1h-2zM458 410h2v1h-2zM460 410h2v2h-2zM447 411h1v1h-1zM449 413h2v1h-2zM454 413h1v1h-1zM457 413h1v1h-1zM443 414h1v1h-1zM454 414h2v1h-2zM456 414h1v1h-1zM452 415h2v2h-2zM443 417h2v1h-2zM447 417h1v2h-1zM449 417h2v1h-2zM445 418h1v1h-1zM446 418h1v1h-1zM439 419h1v1h-1zM446 419h1v1h-1zM448 419h2v1h-2zM441 420h1v1h-1zM441 421h1v1h-1zM442 421h2v1h-2zM446 421h1v1h-1zM443 422h1v2h-1zM444 422h1v1h-1zM445 425h2v2h-2zM442 426h2v2h-2zM443 426h1v1h-1zM435 428h1v2h-1zM440 428h2v1h-2zM444 428h1v1h-1zM442 429h2v1h-2zM443 429h2v1h-2zM436 430h2v2h-2zM433 431h2v1h-2zM432 432h1v1h-1zM438 432h2v2h-2zM432 434h1v1h-1zM433 434h1v1h-1zM437 434h1v1h-1zM438 435h2v2h-2zM432 436h1v1h-1zM440 436h2v1h-2zM441 436h1v1h-1zM439 438h2v1h-2zM437 439h1v1h-1zM431 440h2v1h-2zM431 441h1v2h-1zM438 441h2v1h-2zM433 443h2v1h-2zM438 443h1v2h-1zM431 445h1v1h-1zM438 445h2v1h-2zM439 445h1v1h-1zM431 446h2v1h-2zM430 447h1v1h-1zM432 447h1v2h-1zM433 447h2v2h-2zM435 448h1v2h-1zM439 448h1v1h-1zM432 449h1v2h-1zM435 449h1v1h-1zM432 450h1v1h-1zM437 451h2v2h-2zM437 453h1v2h-1zM439 453h1v1h-1zM431 457h1v1h-1zM434 457h2v1h-2zM431 458h2v1h-2zM436 458h1v1h-1z" fill="#860000"/>
<path d="M527 329h1v2h-1zM535 329h1v2h-1zM525 330h2v2h-2zM534 330h2v1h-2zM535 330h2v1h-2zM531 331h2v1h-2zM536 331h1v2h-1zM524 332h1v2h-1zM526 332h2v2h-2zM528 332h1v2h-1zM536 332h1v1h-1zM527 333h2v2h-2zM526 334h2v2h-2zM527 334h1v1h-1zM537 334h2v2h-2zM524 335h1v2h-1zM529 335h1v1h-1zM534 335h2v1h-2zM535 335h2v2h-2zM523 336h1v2h-1zM526 336h1v2h-1zM529 336h2v2h-2zM534 336h2v2h-2zM522 337h2v1h-2zM523 337h2v2h-2zM527 337h2v2h-2zM533 337h1v1h-1zM534 337h1v2h-1zM536 337h1v1h-1zM522 338h2v1h-2zM531 338h1v1h-1zM535 338h1v2h-1zM528 339h1v1h-1zM529 339h1v1h-1zM531 339h1v2h-1zM538 339h2v2h-2zM522 340h1v2h-1zM525 340h2v2h-2zM527 340h2v1h-2zM537 340h2v1h-2zM529 341h2v1h-2zM532 341h1v2h-1zM533 341h2v1h-2zM530 342h1v1h-1z" fill="#860000"/>
<path d="M526 344h2v1h-2zM521 345h2v1h-2zM527 345h2v1h-2zM517 346h1v2h-1zM518 346h1v1h-1zM522 346h1v2h-1zM515 347h2v2h-2zM517 347h2v2h-2zM520 347h1v1h-1zM523 348h1v2h-1zM514 349h2v2h-2zM528 349h1v2h-1zM514 350h1v2h-1zM527 350h2v1h-2zM522 351h1v1h-1zM523 351h2v2h-2zM525 351h1v2h-1zM529 351h1v2h-1zM516 352h2v2h-2zM520 352h2v1h-2zM522 352h2v1h-2zM529 352h2v1h-2zM521 353h1v1h-1zM521 354h1v2h-1zM525 354h1v2h-1z" fill="#860000"/>
<path d="M513 356h1v1h-1zM508 357h1v1h-1zM510 357h1v1h-1zM515 357h1v1h-1zM518 357h1v1h-1zM519 357h1v1h-1zM518 358h1v1h-1zM522 359h1v1h-1zM515 360h1v1h-1zM518 360h1v1h-1zM513 361h1v1h-1zM519 361h1v1h-1zM520 361h1v1h-1zM507 362h1v1h-1zM513 363h1v1h-1zM522 363h1v1h-1zM514 365h1v1h-1zM517 365h1v1h-1zM508 368h1v1h-1zM514 368h1v1h-1zM519 368h1v1h-1zM516 369h1v1h-1zM510 370h1v1h-1zM521 370h1v1h-1zM513 371h1v1h-1z" fill="#860000"/>
<path d="M540 344h1v1h-1zM544 344h1v1h-1zM532 345h1v1h-1zM535 345h1v1h-1zM530 347h1v1h-1zM534 347h1v1h-1zM537 347h1v1h-1zM538 347h1v1h-1zM546 347h1v1h-1zM529 348h1v1h-1zM534 348h1v1h-1zM538 348h1v1h-1zM542 348h1v1h-1zM532 349h1v1h-1zM535 349h1v1h-1zM540 349h1v1h-1zM534 350h1v1h-1zM538 350h1v1h-1zM547 350h1v1h-1zM535 351h1v1h-1zM536 352h1v1h-1zM542 352h1v1h-1zM539 353h1v1h-1zM546 353h1v1h-1zM541 354h1v1h-1zM546 355h1v1h-1zM534 356h1v1h-1zM538 356h1v1h-1zM545 356h1v1h-1zM527 357h1v1h-1zM528 357h1v1h-1zM543 357h1v1h-1zM545 358h1v1h-1zM525 359h1v1h-1zM528 359h1v1h-1zM533 359h1v1h-1zM537 359h1v1h-1zM541 359h1v1h-1zM527 360h1v1h-1zM535 360h1v1h-1zM539 360h1v1h-1zM534 361h1v1h-1zM536 361h1v1h-1zM524 362h1v1h-1zM535 362h1v1h-1zM526 363h1v1h-1zM529 365h1v1h-1z" fill="#ffffff"/>
<path d="M529 345h1v1h-1zM535 345h1v1h-1zM539 345h1v1h-1zM536 346h1v1h-1zM538 346h1v1h-1zM537 347h1v1h-1zM541 347h1v1h-1zM537 348h1v1h-1zM531 349h1v1h-1zM532 350h1v1h-1zM535 350h1v1h-1zM542 350h1v1h-1zM543 350h1v1h-1zM545 350h1v1h-1zM531 351h1v1h-1zM532 351h1v1h-1zM534 351h1v1h-1zM530 352h1v1h-1zM539 352h1v1h-1zM531 353h1v1h-1zM535 353h1v1h-1zM538 353h1v1h-1z" fill="#d3d3d3"/>
<path d="M267 453h1v1h-1zM281 454h1v1h-1zM259 455h1v1h-1zM263 455h1v1h-1zM266 455h1v1h-1zM276 455h1v1h-1zM257 456h1v1h-1zM266 456h1v1h-1zM280 456h1v1h-1zM273 457h1v1h-1zM276 457h1v1h-1zM277 457h1v1h-1zM278 457h1v1h-1zM258 458h1v1h-1zM265 458h1v1h-1zM269 458h1v1h-1zM270 458h1v1h-1zM273 458h1v1h-1zM246 459h1v1h-1zM253 459h1v1h-1zM276 459h1v1h-1zM240 460h1v1h-1zM244 460h1v1h-1zM251 460h1v1h-1zM254 460h1v1h-1zM267 460h1v1h-1zM273 460h1v1h-1zM237 461h1v1h-1zM259 461h1v1h-1zM269 461h1v1h-1zM275 461h1v1h-1zM231 462h1v1h-1zM244 462h1v1h-1zM266 462h1v1h-1zM232 463h1v1h-1zM261 463h1v1h-1zM277 463h1v1h-1zM240 464h1v1h-1zM257 464h1v1h-1zM259 464h1v1h-1zM268 464h1v1h-1zM281 464h1v1h-1zM243 465h1v1h-1zM247 465h1v1h-1zM253 465h1v1h-1zM273 465h1v1h-1zM277 465h1v1h-1zM249 466h1v1h-1zM256 466h1v1h-1zM258 466h1v1h-1zM278 466h1v1h-1zM279 466h1v1h-1zM282 466h1v1h-1zM239 467h1v1h-1zM243 467h1v1h-1zM270 467h1v1h-1zM256 468h1v1h-1zM257 468h1v1h-1zM261 468h1v1h-1zM265 468h1v1h-1zM277 468h1v1h-1zM266 469h1v1h-1zM271 469h1v1h-1zM279 469h1v1h-1zM259 470h1v1h-1zM270 470h1v1h-1zM272 470h1v1h-1zM259 471h1v1h-1zM263 472h1v1h-1zM272 472h1v1h-1zM268 473h1v1h-1z" fill="#FF9B00"/>
<path d="M268 451h1v1h-1zM267 452h1v1h-1zM271 452h1v1h-1zM265 453h1v1h-1zM268 453h1v1h-1zM270 453h1v1h-1zM279 453h1v1h-1zM265 454h1v1h-1zM268 454h1v1h-1zM272 454h1v1h-1zM273 454h1v1h-1zM276 454h1v1h-1zM279 454h1v1h-1zM258 455h1v1h-1zM266 455h1v1h-1zM267 455h1v1h-1zM268 455h1v1h-1zM269 455h1v1h-1zM270 455h1v1h-1zM278 455h1v1h-1zM252 456h1v1h-1zM257 456h1v1h-1zM262 456h1v1h-1zM263 456h1v1h-1zM266 456h1v1h-1zM270 456h1v1h-1zM273 456h1v1h-1zM254 457h1v1h-1zM255 457h1v1h-1zM257 457h1v1h-1zM261 457h1v1h-1zM269 457h1v1h-1zM272 457h1v1h-1zM273 457h1v1h-1zM253 458h1v1h-1zM257 458h1v1h-1zM261 458h1v1h-1zM263 458h1v1h-1zM267 458h1v1h-1zM273 458h1v1h-1zM245 459h1v1h-1zM270 459h1v1h-1zM271 459h1v1h-1zM272 459h1v1h-1zM274 459h1v1h-1zM240 460h1v1h-1zM241 460h1v1h-1zM244 460h1v1h-1zM246 460h1v1h-1zM255 460h1v1h-1zM256 460h1v1h-1zM264 460h1v1h-1zM276 460h1v1h-1zM230 461h1v1h-1zM234 461h1v1h-1zM260 461h1v1h-1zM261 461h1v1h-1zM275 461h1v1h-1zM276 461h1v1h-1zM279 461h1v1h-1zM233 462h1v1h-1zM243 462h1v1h-1zM250 462h1v1h-1zM251 462h1v1h-1zM255 462h1v1h-1zM266 462h1v1h-1zM268 462h1v1h-1zM272 462h1v1h-1zM233 463h1v1h-1zM242 463h1v1h-1zM243 463h1v1h-1zM245 463h1v1h-1zM253 463h1v1h-1zM255 463h1v1h-1zM231 464h1v1h-1zM238 464h1v1h-1zM273 464h1v1h-1zM281 464h1v1h-1zM234 465h1v1h-1zM239 465h1v1h-1zM242 465h1v1h-1zM243 465h1v1h-1zM248 465h1v1h-1zM264 465h1v1h-1zM265 465h1v1h-1zM266 465h1v1h-1zM274 465h1v1h-1zM280 465h1v1h-1zM237 466h1v1h-1zM256 466h1v1h-1zM257 466h1v1h-1zM274 466h1v1h-1zM276 466h1v1h-1zM246 467h1v1h-1zM268 467h1v1h-1zM270 467h1v1h-1zM278 467h1v1h-1zM243 468h1v1h-1zM250 468h1v1h-1zM253 468h1v1h-1zM256 468h1v1h-1zM257 468h1v1h-1zM267 468h1v1h-1zM271 468h1v1h-1zM274 468h1v1h-1zM276 468h1v1h-1zM248 469h1v1h-1zM253 469h1v1h-1zM255 469h1v1h-1zM260 469h1v1h-1zM263 469h1v1h-1zM264 469h1v1h-1zM265 469h1v1h-1zM269 469h1v1h-1zM272 469h1v1h-1zM279 469h1v1h-1zM254 470h1v1h-1zM259 470h1v1h-1zM261 470h1v1h-1zM277 470h1v1h-1zM278 470h1v1h-1zM258 471h1v1h-1zM267 471h1v1h-1zM262 472h1v1h-1zM263 472h1v1h-1zM267 472h1v1h-1zM268 472h1v1h-1zM266 473h1v1h-1zM270 473h1v1h-1zM260 474h1v1h-1zM266 474h1v1h-1z" fill="#FFF700"/>
<path d="M269 451h1v1h-1zM271 452h1v1h-1zM275 452h1v1h-1zM268 453h1v1h-1zM278 453h1v1h-1zM262 454h1v1h-1zM266 454h1v1h-1zM267 454h1v1h-1zM268 454h1v1h-1zM271 454h1v1h-1zM275 454h1v1h-1zM276 454h1v1h-1zM279 454h1v1h-1zM281 454h1v1h-1zM278 455h1v1h-1zM280 455h1v1h-1zM255 456h1v1h-1zM256 456h1v1h-1zM261 456h1v1h-1zM271 456h1v1h-1zM250 457h1v1h-1zM254 457h1v1h-1zM255 457h1v1h-1zM259 457h1v1h-1zM262 458h1v1h-1zM263 458h1v1h-1zM266 458h1v1h-1zM276 458h1v1h-1zM277 458h1v1h-1zM279 458h1v1h-1zM247 459h1v1h-1zM249 459h1v1h-1zM247 460h1v1h-1zM252 460h1v1h-1zM259 460h1v1h-1zM271 460h1v1h-1zM275 460h1v1h-1zM279 460h1v1h-1zM232 461h1v1h-1zM242 461h1v1h-1zM243 461h1v1h-1zM246 461h1v1h-1zM250 461h1v1h-1zM272 461h1v1h-1zM276 461h1v1h-1zM234 462h1v1h-1zM239 462h1v1h-1zM241 462h1v1h-1zM242 462h1v1h-1zM244 462h1v1h-1zM250 462h1v1h-1zM255 462h1v1h-1zM265 462h1v1h-1zM266 462h1v1h-1zM270 462h1v1h-1zM278 462h1v1h-1zM234 463h1v1h-1zM235 463h1v1h-1zM240 463h1v1h-1zM242 463h1v1h-1zM248 463h1v1h-1zM254 463h1v1h-1zM260 463h1v1h-1zM263 463h1v1h-1zM279 463h1v1h-1zM231 464h1v1h-1zM236 464h1v1h-1zM243 464h1v1h-1zM249 464h1v1h-1zM252 464h1v1h-1zM254 464h1v1h-1zM279 464h1v1h-1zM251 465h1v1h-1zM265 465h1v1h-1zM266 465h1v1h-1zM273 465h1v1h-1zM274 465h1v1h-1zM276 465h1v1h-1zM279 465h1v1h-1zM281 465h1v1h-1zM239 466h1v1h-1zM255 466h1v1h-1zM262 466h1v1h-1zM264 466h1v1h-1zM269 466h1v1h-1zM247 467h1v1h-1zM252 467h1v1h-1zM270 467h1v1h-1zM277 467h1v1h-1zM243 468h1v1h-1zM247 468h1v1h-1zM253 468h1v1h-1zM258 468h1v1h-1zM264 468h1v1h-1zM274 468h1v1h-1zM256 469h1v1h-1zM258 469h1v1h-1zM259 469h1v1h-1zM271 469h1v1h-1zM273 469h1v1h-1zM277 470h1v1h-1zM259 471h1v1h-1zM267 471h1v1h-1zM270 471h1v1h-1zM274 471h1v1h-1zM277 471h1v1h-1zM278 471h1v1h-1zM260 472h1v1h-1zM267 472h1v1h-1zM265 473h1v1h-1zM268 474h1v1h-1z" fill="#ffffff"/>
<path d="M271 452h1v1h-1zM259 456h1v1h-1zM254 458h1v1h-1zM269 458h1v1h-1zM250 459h1v1h-1zM252 460h1v1h-1zM275 460h1v1h-1zM239 461h1v1h-1zM255 461h1v1h-1zM255 462h1v1h-1zM258 462h1v1h-1zM276 462h1v1h-1zM259 463h1v1h-1zM270 464h1v1h-1zM230 465h1v1h-1zM236 465h1v1h-1zM238 465h1v1h-1zM252 466h1v1h-1zM269 466h1v1h-1zM261 467h1v1h-1zM263 469h1v1h-1zM271 469h1v1h-1zM274 469h1v1h-1zM252 470h1v1h-1zM260 470h1v1h-1zM265 470h1v1h-1zM268 470h1v1h-1zM267 471h1v1h-1zM256 472h1v1h-1zM272 472h1v1h-1zM266 473h1v1h-1z" fill="#ABFF54"/>
<path d="M291 458h1v1h-1zM295 458h1v1h-1zM288 459h1v1h-1zM290 459h1v1h-1zM293 459h1v1h-1zM292 460h1v1h-1zM286 461h1v1h-1zM289 462h1v1h-1zM292 462h1v1h-1zM286 463h1v1h-1zM292 464h1v1h-1zM291 465h1v1h-1zM290 466h1v1h-1zM294 466h1v1h-1zM285 467h1v1h-1zM286 467h1v1h-1zM289 469h1v1h-1zM287 470h1v1h-1zM290 470h1v1h-1zM289 471h1v1h-1zM288 472h1v1h-1zM290 473h1v1h-1z" fill="#ffffff"/>
<path d="M242 439h1v1h-1zM246 440h1v1h-1zM240 442h1v1h-1zM253 442h1v1h-1zM248 443h1v1h-1zM252 443h1v1h-1zM250 446h1v1h-1zM247 447h1v1h-1zM243 450h1v1h-1zM252 451h1v1h-1zM255 453h1v1h-1zM248 455h1v1h-1zM253 456h1v1h-1z" fill="#860000"/>
<path d="M296 442h1v1h-1zM300 442h1v1h-1zM301 442h1v1h-1zM296 443h1v1h-1zM303 443h1v1h-1zM290 444h1v1h-1zM297 444h1v1h-1zM294 445h1v1h-1zM309 445h1v1h-1zM296 446h1v1h-1zM308 446h1v1h-1zM284 447h1v1h-1zM308 447h1v1h-1zM305 449h1v1h-1zM294 452h1v1h-1z" fill="#860000"/>
<path d="M142 508h1v1h-1zM136 512h1v1h-1zM140 521h1v1h-1zM135 522h1v1h-1zM136 524h1v1h-1zM136 525h1v1h-1zM136 529h1v1h-1zM141 531h1v1h-1zM141 533h1v1h-1zM142 533h1v1h-1zM137 535h1v1h-1zM139 537h1v1h-1zM139 540h1v1h-1z" fill="#860000"/>
<path d="M205 448h1v1h-1zM205 450h1v1h-1z" fill="#860000"/>
<path d="M553 292h1v1h-1zM546 293h1v1h-1zM542 294h1v1h-1zM547 294h1v1h-1zM551 294h1v1h-1zM543 296h1v1h-1zM550 296h1v1h-1zM553 297h1v1h-1zM544 298h1v1h-1zM543 299h1v1h-1zM554 299h1v1h-1zM542 301h1v1h-1zM547 301h1v1h-1zM542 302h1v1h-1zM552 302h1v1h-1zM542 303h1v1h-1zM543 303h1v1h-1zM549 304h1v1h-1zM549 305h1v1h-1zM550 305h1v1h-1zM554 305h1v1h-1zM545 309h1v1h-1zM552 309h1v1h-1z" fill="#860000"/>
<path d="M553 288h1v1h-1zM546 289h1v1h-1zM550 289h1v1h-1zM546 291h1v1h-1zM545 294h1v1h-1zM546 294h1v1h-1zM551 294h1v1h-1zM543 296h1v1h-1zM547 296h1v1h-1zM547 298h1v1h-1zM546 299h1v1h-1zM554 299h1v1h-1zM548 300h1v1h-1zM544 302h1v1h-1zM545 302h1v1h-1zM550 302h1v1h-1zM548 304h1v1h-1zM545 305h1v1h-1zM550 305h1v1h-1zM546 306h1v1h-1zM547 306h1v1h-1zM550 306h1v1h-1zM547 307h1v1h-1z" fill="#860000"/>
<path d="M392 449h1v1h-1zM393 449h1v1h-1zM389 450h1v1h-1zM394 450h1v1h-1zM396 450h1v1h-1zM398 450h1v1h-1zM399 451h1v1h-1zM393 452h1v1h-1zM395 454h1v1h-1zM398 454h1v1h-1zM400 454h1v1h-1zM397 455h1v1h-1zM400 455h1v1h-1zM403 455h1v1h-1zM399 457h1v1h-1zM403 457h1v1h-1zM406 458h1v1h-1zM400 459h1v1h-1zM407 459h1v1h-1zM405 460h1v1h-1zM404 461h1v1h-1zM409 461h1v1h-1zM408 462h1v1h-1zM409 462h1v1h-1zM405 463h1v1h-1zM408 463h1v1h-1zM410 464h1v1h-1zM411 465h1v1h-1zM409 466h1v1h-1zM415 469h1v1h-1zM414 471h1v1h-1z" fill="#860000"/>
<path d="M442 480h1v1h-1zM442 483h1v1h-1zM441 484h1v1h-1zM437 486h1v1h-1zM438 487h1v1h-1zM427 488h1v1h-1zM451 496h1v1h-1zM452 496h1v1h-1zM443 497h1v1h-1zM432 500h1v1h-1zM442 501h1v1h-1zM452 501h1v1h-1zM443 503h1v1h-1zM454 505h1v1h-1zM441 506h1v1h-1z" fill="#860000"/>
<path d="M448 513h1v1h-1zM456 516h1v1h-1zM443 517h1v1h-1zM437 518h1v1h-1zM446 518h1v1h-1zM454 518h1v1h-1zM437 519h1v1h-1zM438 521h1v1h-1zM447 524h1v1h-1zM441 526h1v1h-1zM446 526h1v1h-1zM455 526h1v1h-1zM435 530h1v1h-1zM440 530h1v1h-1zM451 530h1v1h-1zM459 530h1v1h-1zM459 533h1v1h-1z" fill="#ffffff"/>
<path d="M447 512h1v1h-1zM448 512h1v1h-1zM448 516h1v1h-1zM451 517h1v1h-1zM434 524h1v1h-1zM452 524h1v1h-1zM449 525h1v1h-1zM439 526h1v1h-1zM437 527h1v1h-1zM441 527h1v1h-1zM455 531h1v1h-1z" fill="#d3d3d3"/>
<path d="M416 492h1v1h-1zM420 496h1v1h-1zM417 497h1v1h-1zM418 498h1v1h-1zM421 502h1v1h-1zM420 504h1v1h-1zM420 505h1v1h-1zM422 508h1v1h-1zM431 510h1v1h-1z" fill="#d3d3d3"/>
<path d="M450 491h1v1h-1zM451 491h1v1h-1zM453 496h1v1h-1zM453 498h1v1h-1zM454 499h1v1h-1zM456 503h1v1h-1zM458 506h1v1h-1zM459 511h1v1h-1zM461 513h1v1h-1zM462 517h1v1h-1zM463 520h1v1h-1zM463 521h1v1h-1z" fill="#d3d3d3"/>
<path d="M447 539h1v1h-1zM442 540h1v1h-1zM445 540h1v1h-1zM444 541h1v1h-1zM445 542h1v1h-1zM446 544h1v1h-1zM444 545h1v1h-1zM449 545h1v1h-1zM444 546h1v1h-1zM446 546h1v1h-1zM449 546h1v1h-1zM444 547h1v1h-1zM445 547h1v1h-1zM446 547h1v1h-1zM447 547h1v1h-1zM449 548h1v1h-1z" fill="#ffffff"/>
<path d="M432 519h1v1h-1zM432 520h1v1h-1zM432 521h1v1h-1zM430 523h1v1h-1zM432 523h1v1h-1zM433 523h1v1h-1zM433 524h1v1h-1zM433 525h1v1h-1zM432 527h1v1h-1zM431 528h1v1h-1zM432 529h1v1h-1zM432 530h1v1h-1zM433 532h1v1h-1z" fill="#ffffff"/>
<path d="M415 492h1v1h-1zM415 493h1v1h-1zM416 493h1v1h-1zM416 495h1v1h-1zM417 499h1v1h-1zM419 507h1v1h-1zM421 510h1v1h-1zM423 515h1v1h-1zM424 517h1v1h-1zM425 518h1v1h-1z" fill="#ffffff"/>
<path d="M708 178h1v1h-1zM709 178h1v1h-1zM708 179h1v1h-1zM701 181h1v1h-1zM706 181h1v1h-1zM702 182h1v1h-1zM703 183h1v1h-1zM693 186h1v1h-1zM696 186h1v1h-1zM692 187h1v1h-1zM698 187h1v1h-1zM690 188h1v1h-1zM692 188h1v1h-1zM678 189h1v1h-1zM688 189h1v1h-1zM675 190h1v1h-1zM672 191h1v1h-1zM671 192h1v1h-1zM669 193h1v1h-1zM675 193h1v1h-1zM662 194h1v1h-1zM658 196h1v1h-1zM665 196h1v1h-1zM663 197h1v1h-1zM653 198h1v1h-1zM656 198h1v1h-1zM653 200h1v1h-1zM650 201h1v1h-1zM653 201h1v1h-1zM655 201h1v1h-1zM648 203h1v1h-1zM649 203h1v1h-1zM648 205h1v1h-1z" fill="#ffffff"/>
<path d="M839 163h1v1h-1zM834 164h1v1h-1zM839 164h1v1h-1zM834 165h1v1h-1zM835 165h1v1h-1zM837 165h1v1h-1zM833 166h1v1h-1zM825 167h1v1h-1zM826 167h1v1h-1zM821 169h1v1h-1zM823 169h1v1h-1zM820 170h1v1h-1zM817 171h1v1h-1zM817 172h1v1h-1zM815 173h1v1h-1zM811 174h1v1h-1zM812 174h1v1h-1zM809 175h1v1h-1zM807 176h1v1h-1zM801 177h1v1h-1zM804 177h1v1h-1zM801 178h1v1h-1zM803 178h1v1h-1zM800 179h1v1h-1zM793 180h1v1h-1zM795 180h1v1h-1zM790 181h1v1h-1zM791 181h1v1h-1zM794 181h1v1h-1zM785 182h1v1h-1zM786 182h1v1h-1zM782 183h1v1h-1zM788 183h1v1h-1zM780 184h1v1h-1zM782 184h1v1h-1zM784 184h1v1h-1zM777 185h1v1h-1zM775 186h1v1h-1zM777 186h1v1h-1zM780 186h1v1h-1zM763 187h1v1h-1zM765 187h1v1h-1zM775 187h1v1h-1zM777 187h1v1h-1zM764 188h1v1h-1zM765 188h1v1h-1zM773 188h1v1h-1zM774 188h1v1h-1zM762 189h1v1h-1zM763 189h1v1h-1z" fill="#ffffff"/>
<path d="M373 455h1v1h-1zM365 456h1v1h-1zM370 456h1v1h-1zM369 457h1v1h-1zM370 457h1v1h-1zM371 457h1v1h-1zM373 457h1v1h-1zM374 457h1v1h-1zM369 458h1v1h-1zM370 458h1v1h-1zM375 458h1v1h-1zM376 458h1v1h-1zM375 459h1v1h-1zM365 460h1v1h-1zM373 460h1v1h-1zM374 460h1v1h-1zM376 460h1v1h-1zM379 460h1v1h-1zM366 461h1v1h-1zM368 461h1v1h-1zM375 461h1v1h-1zM374 462h1v1h-1z" fill="#d3d3d3"/>
<path d="M387 453h1v1h-1zM387 454h1v1h-1zM396 455h1v1h-1zM386 456h1v1h-1zM391 457h1v1h-1zM395 457h1v1h-1zM396 457h1v1h-1zM397 457h1v1h-1zM394 458h1v1h-1zM395 458h1v1h-1zM396 458h1v1h-1zM399 458h1v1h-1zM397 460h1v1h-1zM398 460h1v1h-1zM399 461h1v1h-1zM401 461h1v1h-1zM402 463h1v1h-1zM404 463h1v1h-1zM405 464h1v1h-1zM403 465h1v1h-1zM406 466h1v1h-1zM408 468h1v1h-1zM407 469h1v1h-1zM408 470h1v1h-1zM410 470h1v1h-1zM410 472h1v1h-1zM412 472h1v1h-1zM413 474h1v1h-1zM414 474h1v1h-1zM413 475h1v1h-1zM416 477h1v1h-1zM416 480h1v1h-1zM417 481h1v1h-1zM417 483h1v1h-1zM417 484h1v1h-1z" fill="#d3d3d3"/>
<path d="M415 490h1v1h-1zM416 491h1v1h-1zM416 494h1v1h-1zM417 494h1v1h-1zM418 494h1v1h-1zM417 495h1v1h-1zM418 495h1v1h-1zM420 495h1v1h-1zM419 497h1v1h-1zM421 498h1v1h-1zM420 501h1v1h-1zM419 502h1v1h-1zM418 503h1v1h-1zM422 505h1v1h-1zM426 510h1v1h-1zM427 510h1v1h-1zM425 511h1v1h-1zM428 511h1v1h-1zM429 511h1v1h-1zM426 512h1v1h-1zM427 512h1v1h-1zM426 513h1v1h-1zM427 514h1v1h-1zM428 514h1v1h-1z" fill="#d3d3d3"/>
<path d="M363 452h1v1h-1zM364 452h1v1h-1zM376 452h1v1h-1zM381 452h1v1h-1zM369 453h1v1h-1zM371 453h1v1h-1zM364 454h1v1h-1zM366 454h1v1h-1zM379 454h1v1h-1zM381 454h1v1h-1zM364 455h1v1h-1zM366 455h1v1h-1zM368 455h1v1h-1zM370 455h1v1h-1zM378 455h1v1h-1zM381 455h1v1h-1zM384 456h1v1h-1zM381 457h1v1h-1z" fill="#860000"/>
</g>
</g>
<rect x="129.5" y="161.5" width="711" height="698" fill="none" stroke="#2a2a2a" stroke-width="1"/>
<g stroke="#2a2a2a" stroke-width="1" fill="none"><line x1="112.5" y1="177.50" x2="129.5" y2="177.50"/><line x1="112.5" y1="271.25" x2="129.5" y2="271.25"/><line x1="112.5" y1="365.00" x2="129.5" y2="365.00"/><line x1="112.5" y1="458.75" x2="129.5" y2="458.75"/><line x1="112.5" y1="552.50" x2="129.5" y2="552.50"/><line x1="112.5" y1="646.25" x2="129.5" y2="646.25"/><line x1="112.5" y1="740.00" x2="129.5" y2="740.00"/><line x1="112.5" y1="833.75" x2="129.5" y2="833.75"/><line x1="185.30" y1="859.5" x2="185.30" y2="877"/><line x1="278.90" y1="859.5" x2="278.90" y2="877"/><line x1="372.50" y1="859.5" x2="372.50" y2="877"/><line x1="466.10" y1="859.5" x2="466.10" y2="877"/><line x1="559.70" y1="859.5" x2="559.70" y2="877"/><line x1="653.30" y1="859.5" x2="653.30" y2="877"/><line x1="746.90" y1="859.5" x2="746.90" y2="877"/></g>
<text class="ax" x="98" y="185.80" text-anchor="end">45°N</text><text class="ax" x="98" y="279.55" text-anchor="end">40°N</text><text class="ax" x="98" y="373.30" text-anchor="end">35°N</text><text class="ax" x="98" y="467.05" text-anchor="end">30°N</text><text class="ax" x="98" y="560.80" text-anchor="end">25°N</text><text class="ax" x="98" y="654.55" text-anchor="end">20°N</text><text class="ax" x="98" y="748.30" text-anchor="end">15°N</text><text class="ax" x="98" y="842.05" text-anchor="end">10°N</text><text class="ax" x="185.30" y="910" text-anchor="middle">95°W</text><text class="ax" x="278.90" y="910" text-anchor="middle">90°W</text><text class="ax" x="372.50" y="910" text-anchor="middle">85°W</text><text class="ax" x="466.10" y="910" text-anchor="middle">80°W</text><text class="ax" x="559.70" y="910" text-anchor="middle">75°W</text><text class="ax" x="653.30" y="910" text-anchor="middle">70°W</text><text class="ax" x="746.90" y="910" text-anchor="middle">65°W</text>
<text class="ax" x="484" y="944.5" text-anchor="middle">Longitude</text>
<text class="ax" transform="translate(40.5 511.5) rotate(-90)" text-anchor="middle">Latitude</text>
<text class="ti" x="163" y="133.7">2020110710</text>
<text class="ti" x="655.8" y="129.3" style="font-size:25.5px">Elevation (m)</text>
<g stroke="#141414" stroke-width="0.8"><rect x="878.5" y="169.40" width="42.4" height="31.07" fill="#860000"/><rect x="878.5" y="200.47" width="42.4" height="31.07" fill="#B40000"/><rect x="878.5" y="231.54" width="42.4" height="31.07" fill="#E20000"/><rect x="878.5" y="262.61" width="42.4" height="31.07" fill="#FF1100"/><rect x="878.5" y="293.68" width="42.4" height="31.07" fill="#FF3F00"/><rect x="878.5" y="324.75" width="42.4" height="31.07" fill="#FF6D00"/><rect x="878.5" y="355.82" width="42.4" height="31.07" fill="#FF9B00"/><rect x="878.5" y="386.89" width="42.4" height="31.07" fill="#FFC900"/><rect x="878.5" y="417.96" width="42.4" height="31.07" fill="#FFF700"/><rect x="878.5" y="449.03" width="42.4" height="31.07" fill="#D9FF26"/><rect x="878.5" y="480.10" width="42.4" height="31.07" fill="#ABFF54"/><rect x="878.5" y="511.17" width="42.4" height="31.07" fill="#7DFF82"/><rect x="878.5" y="542.24" width="42.4" height="31.07" fill="#4FFFB0"/><rect x="878.5" y="573.31" width="42.4" height="31.07" fill="#21FFDE"/><rect x="878.5" y="604.38" width="42.4" height="31.07" fill="#00F2FF"/><rect x="878.5" y="635.45" width="42.4" height="31.07" fill="#00C4FF"/><rect x="878.5" y="666.52" width="42.4" height="31.07" fill="#0096FF"/><rect x="878.5" y="697.59" width="42.4" height="31.07" fill="#0068FF"/><rect x="878.5" y="728.66" width="42.4" height="31.07" fill="#003AFF"/><rect x="878.5" y="759.73" width="42.4" height="31.07" fill="#000CFF"/><rect x="878.5" y="790.80" width="42.4" height="31.07" fill="#0000DD"/><rect x="878.5" y="821.87" width="42.4" height="31.07" fill="#0000AF"/></g>
<text class="cb" x="959.6" y="211.57" text-anchor="middle">2</text><text class="cb" x="959.6" y="273.71" text-anchor="middle">1.6</text><text class="cb" x="959.6" y="335.85" text-anchor="middle">1.2</text><text class="cb" x="959.6" y="397.99" text-anchor="middle">0.8</text><text class="cb" x="959.6" y="460.13" text-anchor="middle">0.4</text><text class="cb" x="959.6" y="522.27" text-anchor="middle">0</text><text class="cb" x="959.6" y="584.41" text-anchor="middle">-0.4</text><text class="cb" x="959.6" y="646.55" text-anchor="middle">-0.8</text><text class="cb" x="959.6" y="708.69" text-anchor="middle">-1.2</text><text class="cb" x="959.6" y="770.83" text-anchor="middle">-1.6</text><text class="cb" x="959.6" y="832.97" text-anchor="middle">-2</text>
</svg>
</body></html>
